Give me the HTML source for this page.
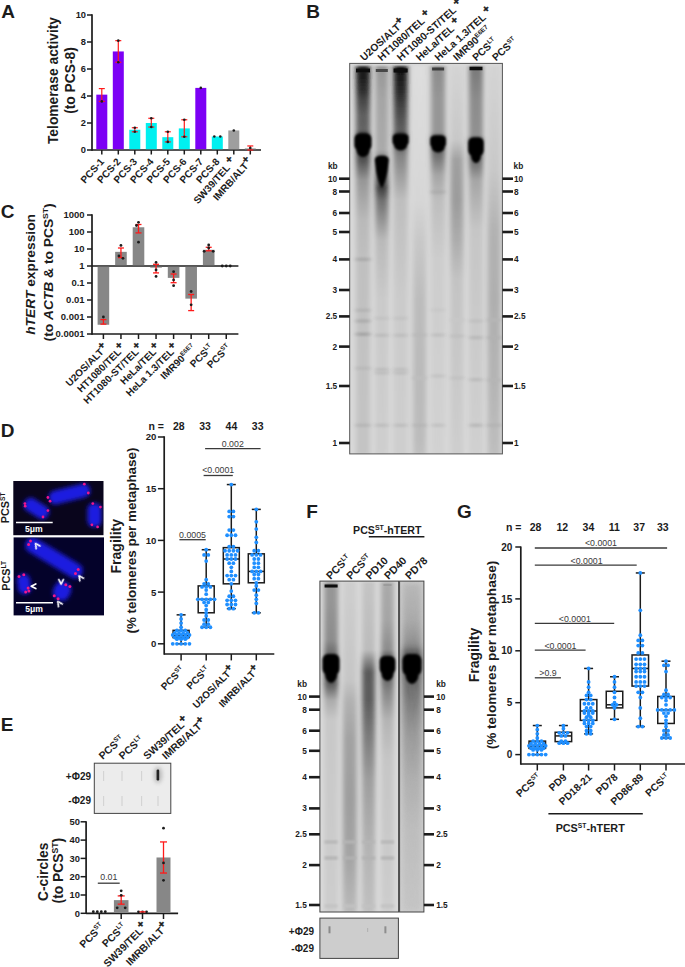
<!DOCTYPE html>
<html><head><meta charset="utf-8"><style>
html,body{margin:0;padding:0;background:#fff;overflow:hidden;width:685px;height:967px;}
svg{display:block;font-family:"Liberation Sans",sans-serif;}
</style></head><body>
<svg width="685" height="967" viewBox="0 0 685 967">
<defs><filter id="b05" x="-50%" y="-50%" width="200%" height="200%"><feGaussianBlur stdDeviation="0.6"/></filter><filter id="b1" x="-50%" y="-50%" width="200%" height="200%"><feGaussianBlur stdDeviation="1.0"/></filter><filter id="b15" x="-50%" y="-50%" width="200%" height="200%"><feGaussianBlur stdDeviation="2.4 1.2"/></filter><filter id="b2" x="-50%" y="-50%" width="200%" height="200%"><feGaussianBlur stdDeviation="2.0"/></filter><filter id="b3" x="-50%" y="-50%" width="200%" height="200%"><feGaussianBlur stdDeviation="3.0"/></filter><filter id="bh" x="-50%" y="-50%" width="200%" height="200%"><feGaussianBlur stdDeviation="1.6 0.8"/></filter><filter id="bs" x="-50%" y="-50%" width="200%" height="200%"><feGaussianBlur stdDeviation="1.3"/></filter><linearGradient id="vg1" x1="0" y1="0" x2="0" y2="1"><stop offset="0.0000" stop-color="#282828"/><stop offset="0.0206" stop-color="#191919"/><stop offset="0.0619" stop-color="#2d2d2d"/><stop offset="0.0876" stop-color="#464646"/><stop offset="0.1263" stop-color="#5f5f5f"/><stop offset="0.1649" stop-color="#646464"/><stop offset="0.1778" stop-color="#282828"/><stop offset="0.2423" stop-color="#505050"/><stop offset="0.2938" stop-color="#969696"/><stop offset="0.3969" stop-color="#b9b9b9"/><stop offset="0.5000" stop-color="#c0c0c0"/><stop offset="1.0000" stop-color="#c4c4c4"/></linearGradient><linearGradient id="vg2" x1="0" y1="0" x2="0" y2="1"><stop offset="0.0000" stop-color="#969696"/><stop offset="0.0876" stop-color="#a5a5a5"/><stop offset="0.2165" stop-color="#aaaaaa"/><stop offset="0.2423" stop-color="#787878"/><stop offset="0.3144" stop-color="#3c3c3c"/><stop offset="0.3454" stop-color="#6e6e6e"/><stop offset="0.4485" stop-color="#b9b9b9"/><stop offset="0.6031" stop-color="#cacaca"/><stop offset="1.0000" stop-color="#cecece"/></linearGradient><linearGradient id="vg3" x1="0" y1="0" x2="0" y2="1"><stop offset="0.0000" stop-color="#1e1e1e"/><stop offset="0.0206" stop-color="#191919"/><stop offset="0.0619" stop-color="#282828"/><stop offset="0.1005" stop-color="#414141"/><stop offset="0.1392" stop-color="#555555"/><stop offset="0.1649" stop-color="#5f5f5f"/><stop offset="0.1778" stop-color="#323232"/><stop offset="0.2294" stop-color="#828282"/><stop offset="0.3454" stop-color="#bebebe"/><stop offset="0.6031" stop-color="#cbcbcb"/><stop offset="1.0000" stop-color="#cecece"/></linearGradient><linearGradient id="vg4" x1="0" y1="0" x2="0" y2="1"><stop offset="0.0000" stop-color="#dedede"/><stop offset="0.3454" stop-color="#d6d6d6"/><stop offset="0.4485" stop-color="#c8c8c8"/><stop offset="0.6031" stop-color="#bcbcbc"/><stop offset="0.8093" stop-color="#bababa"/><stop offset="0.9639" stop-color="#bcbcbc"/><stop offset="1.0000" stop-color="#c0c0c0"/></linearGradient><linearGradient id="vg5" x1="0" y1="0" x2="0" y2="1"><stop offset="0.0000" stop-color="#8c8c8c"/><stop offset="0.0876" stop-color="#969696"/><stop offset="0.1701" stop-color="#969696"/><stop offset="0.1907" stop-color="#3c3c3c"/><stop offset="0.2294" stop-color="#6e6e6e"/><stop offset="0.2809" stop-color="#a5a5a5"/><stop offset="0.3454" stop-color="#bebebe"/><stop offset="0.5000" stop-color="#cdcdcd"/><stop offset="1.0000" stop-color="#d2d2d2"/></linearGradient><linearGradient id="vg6" x1="0" y1="0" x2="0" y2="1"><stop offset="0.0000" stop-color="#d4d4d4"/><stop offset="0.1907" stop-color="#c8c8c8"/><stop offset="0.2423" stop-color="#a0a0a0"/><stop offset="0.3454" stop-color="#9b9b9b"/><stop offset="0.4485" stop-color="#acacac"/><stop offset="0.5515" stop-color="#c3c3c3"/><stop offset="1.0000" stop-color="#cecece"/></linearGradient><linearGradient id="vg7" x1="0" y1="0" x2="0" y2="1"><stop offset="0.0000" stop-color="#787878"/><stop offset="0.0876" stop-color="#8c8c8c"/><stop offset="0.1778" stop-color="#919191"/><stop offset="0.1907" stop-color="#3c3c3c"/><stop offset="0.2552" stop-color="#787878"/><stop offset="0.2938" stop-color="#a5a5a5"/><stop offset="0.4227" stop-color="#c6c6c6"/><stop offset="1.0000" stop-color="#d0d0d0"/></linearGradient><linearGradient id="vg8" x1="0" y1="0" x2="0" y2="1"><stop offset="0.0000" stop-color="#d4d4d4"/><stop offset="0.2680" stop-color="#c8c8c8"/><stop offset="0.4227" stop-color="#b2b2b2"/><stop offset="0.6031" stop-color="#afafaf"/><stop offset="0.8093" stop-color="#b4b4b4"/><stop offset="1.0000" stop-color="#bebebe"/></linearGradient><filter id="chrom" x="-50%" y="-50%" width="200%" height="200%"><feGaussianBlur stdDeviation="2.2"/></filter><filter id="dotb" x="-100%" y="-100%" width="300%" height="300%"><feGaussianBlur stdDeviation="0.7"/></filter><linearGradient id="vg9" x1="0" y1="0" x2="0" y2="1"><stop offset="0.0000" stop-color="#969696"/><stop offset="0.0545" stop-color="#969696"/><stop offset="0.1758" stop-color="#8c8c8c"/><stop offset="0.2121" stop-color="#6e6e6e"/><stop offset="0.2364" stop-color="#3c3c3c"/><stop offset="0.3091" stop-color="#5a5a5a"/><stop offset="0.3576" stop-color="#aaaaaa"/><stop offset="0.4182" stop-color="#c8c8c8"/><stop offset="1.0000" stop-color="#cdcdcd"/></linearGradient><linearGradient id="vg10" x1="0" y1="0" x2="0" y2="1"><stop offset="0.0000" stop-color="#cecece"/><stop offset="0.2970" stop-color="#c6c6c6"/><stop offset="0.3576" stop-color="#b2b2b2"/><stop offset="0.4788" stop-color="#a2a2a2"/><stop offset="0.6606" stop-color="#9e9e9e"/><stop offset="0.8424" stop-color="#a5a5a5"/><stop offset="1.0000" stop-color="#bababa"/></linearGradient><linearGradient id="vg11" x1="0" y1="0" x2="0" y2="1"><stop offset="0.0000" stop-color="#c4c4c4"/><stop offset="0.2061" stop-color="#bcbcbc"/><stop offset="0.2364" stop-color="#8c8c8c"/><stop offset="0.2727" stop-color="#5a5a5a"/><stop offset="0.3576" stop-color="#5c5c5c"/><stop offset="0.4485" stop-color="#767676"/><stop offset="0.6000" stop-color="#9e9e9e"/><stop offset="0.8121" stop-color="#b4b4b4"/><stop offset="1.0000" stop-color="#c0c0c0"/></linearGradient><linearGradient id="vg12" x1="0" y1="0" x2="0" y2="1"><stop offset="0.0000" stop-color="#aaaaaa"/><stop offset="0.1152" stop-color="#a5a5a5"/><stop offset="0.2061" stop-color="#8c8c8c"/><stop offset="0.2364" stop-color="#3c3c3c"/><stop offset="0.3273" stop-color="#828282"/><stop offset="0.4182" stop-color="#b4b4b4"/><stop offset="0.5394" stop-color="#c6c6c6"/><stop offset="1.0000" stop-color="#cdcdcd"/></linearGradient><filter id="noise" x="0" y="0" width="100%" height="100%"><feTurbulence type="fractalNoise" baseFrequency="0.25 0.08" numOctaves="2" seed="3"/><feColorMatrix type="matrix" values="0 0 0 0 0.5  0 0 0 0 0.5  0 0 0 0 0.5  0 0 0 0.5 0"/></filter><linearGradient id="vg13" x1="0" y1="0" x2="0" y2="1"><stop offset="0.0000" stop-color="#b9b9b9"/><stop offset="0.1152" stop-color="#aaaaaa"/><stop offset="0.1909" stop-color="#8c8c8c"/><stop offset="0.2212" stop-color="#3c3c3c"/><stop offset="0.3273" stop-color="#6e6e6e"/><stop offset="0.4485" stop-color="#969696"/><stop offset="0.6000" stop-color="#afafaf"/><stop offset="0.7515" stop-color="#bebebe"/><stop offset="1.0000" stop-color="#c6c6c6"/></linearGradient></defs>
<text x="1.20" y="18.30" font-size="19" text-anchor="start" font-weight="bold" fill="#1c1c1c" >A</text>
<text x="306.20" y="18.10" font-size="19" text-anchor="start" font-weight="bold" fill="#1c1c1c" >B</text>
<text x="0.80" y="217.50" font-size="19" text-anchor="start" font-weight="bold" fill="#1c1c1c" >C</text>
<text x="0.80" y="436.50" font-size="19" text-anchor="start" font-weight="bold" fill="#1c1c1c" >D</text>
<text x="0.80" y="731.00" font-size="19" text-anchor="start" font-weight="bold" fill="#1c1c1c" >E</text>
<text x="306.20" y="518.00" font-size="19" text-anchor="start" font-weight="bold" fill="#1c1c1c" >F</text>
<text x="457.00" y="517.90" font-size="19" text-anchor="start" font-weight="bold" fill="#1c1c1c" >G</text>
<line x1="92.00" y1="14.25" x2="92.00" y2="150.75" stroke="#1c1c1c" stroke-width="1.7" />
<line x1="92.00" y1="150.00" x2="261.00" y2="150.00" stroke="#1c1c1c" stroke-width="1.7" />
<line x1="87.00" y1="150.00" x2="92.00" y2="150.00" stroke="#1c1c1c" stroke-width="1.5" />
<text x="86.00" y="152.60" font-size="9.3" text-anchor="end" font-weight="bold" fill="#1c1c1c" >0</text>
<line x1="87.00" y1="123.00" x2="92.00" y2="123.00" stroke="#1c1c1c" stroke-width="1.5" />
<text x="86.00" y="125.60" font-size="9.3" text-anchor="end" font-weight="bold" fill="#1c1c1c" >2</text>
<line x1="87.00" y1="96.00" x2="92.00" y2="96.00" stroke="#1c1c1c" stroke-width="1.5" />
<text x="86.00" y="98.60" font-size="9.3" text-anchor="end" font-weight="bold" fill="#1c1c1c" >4</text>
<line x1="87.00" y1="69.00" x2="92.00" y2="69.00" stroke="#1c1c1c" stroke-width="1.5" />
<text x="86.00" y="71.60" font-size="9.3" text-anchor="end" font-weight="bold" fill="#1c1c1c" >6</text>
<line x1="87.00" y1="42.00" x2="92.00" y2="42.00" stroke="#1c1c1c" stroke-width="1.5" />
<text x="86.00" y="44.60" font-size="9.3" text-anchor="end" font-weight="bold" fill="#1c1c1c" >8</text>
<line x1="87.00" y1="15.00" x2="92.00" y2="15.00" stroke="#1c1c1c" stroke-width="1.5" />
<text x="86.00" y="17.60" font-size="9.3" text-anchor="end" font-weight="bold" fill="#1c1c1c" >10</text>
<rect x="96.30" y="94.65" width="11.00" height="54.55" fill="#7c00f5" />
<line x1="101.80" y1="150.00" x2="101.80" y2="154.50" stroke="#1c1c1c" stroke-width="1.5" />
<line x1="101.80" y1="101.40" x2="101.80" y2="88.58" stroke="#ff1a1a" stroke-width="1.2" />
<line x1="98.80" y1="101.40" x2="104.80" y2="101.40" stroke="#ff1a1a" stroke-width="1.2" />
<line x1="98.80" y1="88.58" x2="104.80" y2="88.58" stroke="#ff1a1a" stroke-width="1.2" />
<circle cx="101.80" cy="101.40" r="1.3" fill="#1c1c1c"/>
<rect x="112.80" y="51.45" width="11.00" height="97.75" fill="#7c00f5" />
<line x1="118.30" y1="150.00" x2="118.30" y2="154.50" stroke="#1c1c1c" stroke-width="1.5" />
<line x1="118.30" y1="62.25" x2="118.30" y2="40.65" stroke="#ff1a1a" stroke-width="1.2" />
<line x1="115.30" y1="62.25" x2="121.30" y2="62.25" stroke="#ff1a1a" stroke-width="1.2" />
<line x1="115.30" y1="40.65" x2="121.30" y2="40.65" stroke="#ff1a1a" stroke-width="1.2" />
<circle cx="118.30" cy="62.25" r="1.3" fill="#1c1c1c"/>
<circle cx="118.30" cy="40.65" r="1.3" fill="#1c1c1c"/>
<rect x="129.30" y="129.75" width="11.00" height="19.45" fill="#00f0f0" />
<line x1="134.80" y1="150.00" x2="134.80" y2="154.50" stroke="#1c1c1c" stroke-width="1.5" />
<line x1="134.80" y1="131.78" x2="134.80" y2="127.72" stroke="#ff1a1a" stroke-width="1.2" />
<line x1="131.80" y1="131.78" x2="137.80" y2="131.78" stroke="#ff1a1a" stroke-width="1.2" />
<line x1="131.80" y1="127.72" x2="137.80" y2="127.72" stroke="#ff1a1a" stroke-width="1.2" />
<circle cx="134.80" cy="131.78" r="1.3" fill="#1c1c1c"/>
<circle cx="134.80" cy="127.72" r="1.3" fill="#1c1c1c"/>
<rect x="145.80" y="123.00" width="11.00" height="26.20" fill="#00f0f0" />
<line x1="151.30" y1="150.00" x2="151.30" y2="154.50" stroke="#1c1c1c" stroke-width="1.5" />
<line x1="151.30" y1="127.05" x2="151.30" y2="118.28" stroke="#ff1a1a" stroke-width="1.2" />
<line x1="148.30" y1="127.05" x2="154.30" y2="127.05" stroke="#ff1a1a" stroke-width="1.2" />
<line x1="148.30" y1="118.28" x2="154.30" y2="118.28" stroke="#ff1a1a" stroke-width="1.2" />
<circle cx="151.30" cy="127.05" r="1.3" fill="#1c1c1c"/>
<circle cx="151.30" cy="118.28" r="1.3" fill="#1c1c1c"/>
<rect x="162.30" y="137.18" width="11.00" height="12.02" fill="#00f0f0" />
<line x1="167.80" y1="150.00" x2="167.80" y2="154.50" stroke="#1c1c1c" stroke-width="1.5" />
<line x1="167.80" y1="141.90" x2="167.80" y2="131.78" stroke="#ff1a1a" stroke-width="1.2" />
<line x1="164.80" y1="141.90" x2="170.80" y2="141.90" stroke="#ff1a1a" stroke-width="1.2" />
<line x1="164.80" y1="131.78" x2="170.80" y2="131.78" stroke="#ff1a1a" stroke-width="1.2" />
<circle cx="167.80" cy="141.90" r="1.3" fill="#1c1c1c"/>
<circle cx="167.80" cy="131.78" r="1.3" fill="#1c1c1c"/>
<rect x="178.80" y="128.40" width="11.00" height="20.80" fill="#00f0f0" />
<line x1="184.30" y1="150.00" x2="184.30" y2="154.50" stroke="#1c1c1c" stroke-width="1.5" />
<line x1="184.30" y1="136.77" x2="184.30" y2="119.76" stroke="#ff1a1a" stroke-width="1.2" />
<line x1="181.30" y1="136.77" x2="187.30" y2="136.77" stroke="#ff1a1a" stroke-width="1.2" />
<line x1="181.30" y1="119.76" x2="187.30" y2="119.76" stroke="#ff1a1a" stroke-width="1.2" />
<circle cx="184.30" cy="136.77" r="1.3" fill="#1c1c1c"/>
<circle cx="184.30" cy="119.76" r="1.3" fill="#1c1c1c"/>
<rect x="195.30" y="87.90" width="11.00" height="61.30" fill="#7c00f5" />
<line x1="200.80" y1="150.00" x2="200.80" y2="154.50" stroke="#1c1c1c" stroke-width="1.5" />
<circle cx="200.80" cy="87.90" r="1.3" fill="#1c1c1c"/>
<rect x="211.80" y="136.50" width="11.00" height="12.70" fill="#00f0f0" />
<line x1="217.30" y1="150.00" x2="217.30" y2="154.50" stroke="#1c1c1c" stroke-width="1.5" />
<circle cx="214.30" cy="136.50" r="1.3" fill="#1c1c1c"/>
<circle cx="220.30" cy="136.50" r="1.3" fill="#1c1c1c"/>
<rect x="228.30" y="130.43" width="11.00" height="18.77" fill="#9e9e9e" />
<line x1="233.80" y1="150.00" x2="233.80" y2="154.50" stroke="#1c1c1c" stroke-width="1.5" />
<circle cx="233.80" cy="130.43" r="1.3" fill="#1c1c1c"/>
<rect x="244.80" y="147.97" width="11.00" height="1.23" fill="#bdbdbd" />
<line x1="250.30" y1="150.00" x2="250.30" y2="154.50" stroke="#1c1c1c" stroke-width="1.5" />
<line x1="250.30" y1="150.00" x2="250.30" y2="145.95" stroke="#ff1a1a" stroke-width="1.2" />
<line x1="247.30" y1="150.00" x2="253.30" y2="150.00" stroke="#ff1a1a" stroke-width="1.2" />
<line x1="247.30" y1="145.95" x2="253.30" y2="145.95" stroke="#ff1a1a" stroke-width="1.2" />
<circle cx="250.30" cy="147.97" r="1.3" fill="#1c1c1c"/>
<text x="104.80" y="162.00" font-size="10" text-anchor="end" font-weight="bold" fill="#1c1c1c" transform="rotate(-48 104.80 162.00)" >PCS-1</text>
<text x="121.30" y="162.00" font-size="10" text-anchor="end" font-weight="bold" fill="#1c1c1c" transform="rotate(-48 121.30 162.00)" >PCS-2</text>
<text x="137.80" y="162.00" font-size="10" text-anchor="end" font-weight="bold" fill="#1c1c1c" transform="rotate(-48 137.80 162.00)" >PCS-3</text>
<text x="154.30" y="162.00" font-size="10" text-anchor="end" font-weight="bold" fill="#1c1c1c" transform="rotate(-48 154.30 162.00)" >PCS-4</text>
<text x="170.80" y="162.00" font-size="10" text-anchor="end" font-weight="bold" fill="#1c1c1c" transform="rotate(-48 170.80 162.00)" >PCS-5</text>
<text x="187.30" y="162.00" font-size="10" text-anchor="end" font-weight="bold" fill="#1c1c1c" transform="rotate(-48 187.30 162.00)" >PCS-6</text>
<text x="203.80" y="162.00" font-size="10" text-anchor="end" font-weight="bold" fill="#1c1c1c" transform="rotate(-48 203.80 162.00)" >PCS-7</text>
<text x="220.30" y="162.00" font-size="10" text-anchor="end" font-weight="bold" fill="#1c1c1c" transform="rotate(-48 220.30 162.00)" >PCS-8</text>
<text x="236.30" y="162.00" font-size="10" text-anchor="end" font-weight="bold" fill="#1c1c1c" transform="rotate(-48 236.30 162.00)" >SW39/TEL <tspan font-size="10.00" dy="-4.00" stroke="#1c1c1c" stroke-width="0.5">+</tspan></text>
<text x="252.80" y="162.00" font-size="10" text-anchor="end" font-weight="bold" fill="#1c1c1c" transform="rotate(-48 252.80 162.00)" >IMRB/ALT<tspan font-size="10.00" dy="-4.00" stroke="#1c1c1c" stroke-width="0.5">+</tspan></text>
<text x="57.50" y="80.50" font-size="13.8" text-anchor="middle" font-weight="bold" fill="#1c1c1c" transform="rotate(-90 57.50 80.50)" >Telomerase activity</text>
<text x="74.50" y="80.50" font-size="13.8" text-anchor="middle" font-weight="bold" fill="#1c1c1c" transform="rotate(-90 74.50 80.50)" >(to PCS-8)</text>
<clipPath id="gB"><rect x="349.7" y="63.4" width="152.7" height="390.5"/></clipPath>
<rect x="349.70" y="63.40" width="152.70" height="390.50" fill="#d9d9d9" />
<g clip-path="url(#gB)">
<rect x="356.00" y="66.00" width="14.00" height="388.00" fill="url(#vg1)" filter="url(#b15)" opacity="1"/>
<g filter="url(#bs)" fill="#000"><rect x="354.50" y="133.50" width="17.00" height="16.92" rx="5.44" ry="5.17"/><ellipse cx="363.00" cy="149.01" rx="6.50" ry="7.99"/></g>
<rect x="356.00" y="68.50" width="14.00" height="4.00" fill="#0f0f0f" filter="url(#b05)"/>
<rect x="356.50" y="257.65" width="13.00" height="3.50" fill="#aaaaaa" filter="url(#b15)"/>
<rect x="356.50" y="308.55" width="13.00" height="3.50" fill="#b4b4b4" filter="url(#b15)"/>
<rect x="356.50" y="319.25" width="13.00" height="3.50" fill="#acacac" filter="url(#b15)"/>
<rect x="356.50" y="332.45" width="13.00" height="3.50" fill="#a5a5a5" filter="url(#b15)"/>
<rect x="356.50" y="366.55" width="13.00" height="3.50" fill="#b9b9b9" filter="url(#b15)"/>
<rect x="356.50" y="423.55" width="13.00" height="3.50" fill="#b6b6b6" filter="url(#b15)"/>
<rect x="375.30" y="66.00" width="13.00" height="388.00" fill="url(#vg2)" filter="url(#b15)" opacity="1"/>
<path d="M374.80,160.00 Q374.80,155.5 381.80,155.5 Q388.80,155.5 388.80,160 L387.30,172 Q384.80,184 381.80,188 Q378.80,184 376.30,172 Z" fill="#000" filter="url(#bs)"/>
<rect x="375.80" y="69.00" width="12.00" height="3.00" fill="#464646" filter="url(#b05)"/>
<rect x="375.80" y="316.45" width="12.00" height="3.50" fill="#c3c3c3" filter="url(#b15)"/>
<rect x="375.80" y="333.55" width="12.00" height="3.50" fill="#bcbcbc" filter="url(#b15)"/>
<rect x="375.80" y="367.75" width="12.00" height="3.50" fill="#bcbcbc" filter="url(#b15)"/>
<rect x="375.80" y="371.15" width="12.00" height="3.50" fill="#bebebe" filter="url(#b15)"/>
<rect x="375.80" y="423.55" width="12.00" height="3.50" fill="#bebebe" filter="url(#b15)"/>
<rect x="393.60" y="66.00" width="14.00" height="388.00" fill="url(#vg3)" filter="url(#b15)" opacity="1"/>
<g filter="url(#bs)" fill="#000"><rect x="392.60" y="133.80" width="16.00" height="11.95" rx="5.12" ry="3.65"/><ellipse cx="400.60" cy="144.76" rx="6.50" ry="5.64"/></g>
<rect x="393.60" y="68.50" width="14.00" height="4.00" fill="#0a0a0a" filter="url(#b05)"/>
<rect x="394.60" y="316.45" width="12.00" height="3.50" fill="#c3c3c3" filter="url(#b15)"/>
<rect x="394.60" y="333.55" width="12.00" height="3.50" fill="#bebebe" filter="url(#b15)"/>
<rect x="394.60" y="367.75" width="12.00" height="3.50" fill="#bebebe" filter="url(#b15)"/>
<rect x="394.60" y="371.15" width="12.00" height="3.50" fill="#bebebe" filter="url(#b15)"/>
<rect x="394.60" y="423.55" width="12.00" height="3.50" fill="#bebebe" filter="url(#b15)"/>
<rect x="413.10" y="66.00" width="13.00" height="388.00" fill="url(#vg4)" filter="url(#b15)" opacity="1"/>
<rect x="413.60" y="333.25" width="12.00" height="3.50" fill="#b9b9b9" filter="url(#b15)"/>
<rect x="413.60" y="376.25" width="12.00" height="3.50" fill="#bebebe" filter="url(#b15)"/>
<rect x="413.60" y="423.55" width="12.00" height="3.50" fill="#b6b6b6" filter="url(#b15)"/>
<rect x="431.10" y="66.00" width="14.00" height="388.00" fill="url(#vg5)" filter="url(#b15)" opacity="1"/>
<g filter="url(#bs)" fill="#000"><rect x="430.35" y="135.20" width="15.50" height="12.53" rx="4.96" ry="3.83"/><ellipse cx="438.10" cy="146.68" rx="6.50" ry="5.92"/></g>
<rect x="432.10" y="67.50" width="12.00" height="3.00" fill="#3c3c3c" filter="url(#b05)"/>
<rect x="432.10" y="190.25" width="12.00" height="3.50" fill="#acacac" filter="url(#b15)"/>
<rect x="432.10" y="308.25" width="12.00" height="3.50" fill="#c8c8c8" filter="url(#b15)"/>
<rect x="432.10" y="333.25" width="12.00" height="3.50" fill="#c0c0c0" filter="url(#b15)"/>
<rect x="432.10" y="374.25" width="12.00" height="3.50" fill="#c3c3c3" filter="url(#b15)"/>
<rect x="432.10" y="423.55" width="12.00" height="3.50" fill="#c2c2c2" filter="url(#b15)"/>
<rect x="450.40" y="66.00" width="13.00" height="388.00" fill="url(#vg6)" filter="url(#b15)" opacity="1"/>
<rect x="450.90" y="318.25" width="12.00" height="3.50" fill="#c8c8c8" filter="url(#b15)"/>
<rect x="450.90" y="334.25" width="12.00" height="3.50" fill="#c0c0c0" filter="url(#b15)"/>
<rect x="450.90" y="376.25" width="12.00" height="3.50" fill="#c2c2c2" filter="url(#b15)"/>
<rect x="469.00" y="66.00" width="14.00" height="388.00" fill="url(#vg7)" filter="url(#b15)" opacity="1"/>
<g filter="url(#bs)" fill="#000"><rect x="468.25" y="137.40" width="15.50" height="18.43" rx="4.96" ry="5.63"/><ellipse cx="476.00" cy="154.30" rx="5.00" ry="8.70"/></g>
<rect x="469.50" y="66.75" width="13.00" height="3.50" fill="#0f0f0f" filter="url(#b05)"/>
<rect x="470.00" y="319.25" width="12.00" height="3.50" fill="#c0c0c0" filter="url(#b15)"/>
<rect x="470.00" y="335.85" width="12.00" height="3.50" fill="#b9b9b9" filter="url(#b15)"/>
<rect x="470.00" y="377.95" width="12.00" height="3.50" fill="#bcbcbc" filter="url(#b15)"/>
<rect x="470.00" y="423.55" width="12.00" height="3.50" fill="#b9b9b9" filter="url(#b15)"/>
<rect x="487.60" y="66.00" width="13.00" height="388.00" fill="url(#vg8)" filter="url(#b15)" opacity="1"/>
<rect x="488.10" y="318.25" width="12.00" height="3.50" fill="#b6b6b6" filter="url(#b15)"/>
<rect x="488.10" y="335.85" width="12.00" height="3.50" fill="#b2b2b2" filter="url(#b15)"/>
<rect x="488.10" y="378.25" width="12.00" height="3.50" fill="#b6b6b6" filter="url(#b15)"/>
<rect x="488.10" y="423.55" width="12.00" height="3.50" fill="#b4b4b4" filter="url(#b15)"/>
</g>
<rect x="349.7" y="63.4" width="152.7" height="390.5" fill="none" stroke="#555" stroke-width="1"/>
<text x="337.60" y="168.90" font-size="8.3" text-anchor="end" font-weight="bold" fill="#1c1c1c" >kb</text>
<text x="513.60" y="168.90" font-size="8.3" text-anchor="start" font-weight="bold" fill="#1c1c1c" >kb</text>
<line x1="339.00" y1="178.70" x2="349.70" y2="178.70" stroke="#1c1c1c" stroke-width="2.6" />
<line x1="502.40" y1="178.70" x2="513.00" y2="178.70" stroke="#1c1c1c" stroke-width="2.6" />
<text x="337.20" y="181.70" font-size="8.3" text-anchor="end" font-weight="bold" fill="#1c1c1c" >10</text>
<text x="514.00" y="181.70" font-size="8.3" text-anchor="start" font-weight="bold" fill="#1c1c1c" >10</text>
<line x1="339.00" y1="191.50" x2="349.70" y2="191.50" stroke="#1c1c1c" stroke-width="2.6" />
<line x1="502.40" y1="191.50" x2="513.00" y2="191.50" stroke="#1c1c1c" stroke-width="2.6" />
<text x="337.20" y="194.50" font-size="8.3" text-anchor="end" font-weight="bold" fill="#1c1c1c" >8</text>
<text x="514.00" y="194.50" font-size="8.3" text-anchor="start" font-weight="bold" fill="#1c1c1c" >8</text>
<line x1="339.00" y1="213.00" x2="349.70" y2="213.00" stroke="#1c1c1c" stroke-width="2.6" />
<line x1="502.40" y1="213.00" x2="513.00" y2="213.00" stroke="#1c1c1c" stroke-width="2.6" />
<text x="337.20" y="216.00" font-size="8.3" text-anchor="end" font-weight="bold" fill="#1c1c1c" >6</text>
<text x="514.00" y="216.00" font-size="8.3" text-anchor="start" font-weight="bold" fill="#1c1c1c" >6</text>
<line x1="339.00" y1="232.00" x2="349.70" y2="232.00" stroke="#1c1c1c" stroke-width="2.6" />
<line x1="502.40" y1="232.00" x2="513.00" y2="232.00" stroke="#1c1c1c" stroke-width="2.6" />
<text x="337.20" y="235.00" font-size="8.3" text-anchor="end" font-weight="bold" fill="#1c1c1c" >5</text>
<text x="514.00" y="235.00" font-size="8.3" text-anchor="start" font-weight="bold" fill="#1c1c1c" >5</text>
<line x1="339.00" y1="259.40" x2="349.70" y2="259.40" stroke="#1c1c1c" stroke-width="2.6" />
<line x1="502.40" y1="259.40" x2="513.00" y2="259.40" stroke="#1c1c1c" stroke-width="2.6" />
<text x="337.20" y="262.40" font-size="8.3" text-anchor="end" font-weight="bold" fill="#1c1c1c" >4</text>
<text x="514.00" y="262.40" font-size="8.3" text-anchor="start" font-weight="bold" fill="#1c1c1c" >4</text>
<line x1="339.00" y1="290.00" x2="349.70" y2="290.00" stroke="#1c1c1c" stroke-width="2.6" />
<line x1="502.40" y1="290.00" x2="513.00" y2="290.00" stroke="#1c1c1c" stroke-width="2.6" />
<text x="337.20" y="293.00" font-size="8.3" text-anchor="end" font-weight="bold" fill="#1c1c1c" >3</text>
<text x="514.00" y="293.00" font-size="8.3" text-anchor="start" font-weight="bold" fill="#1c1c1c" >3</text>
<line x1="339.00" y1="316.40" x2="349.70" y2="316.40" stroke="#1c1c1c" stroke-width="2.6" />
<line x1="502.40" y1="316.40" x2="513.00" y2="316.40" stroke="#1c1c1c" stroke-width="2.6" />
<text x="337.20" y="319.40" font-size="8.3" text-anchor="end" font-weight="bold" fill="#1c1c1c" >2.5</text>
<text x="514.00" y="319.40" font-size="8.3" text-anchor="start" font-weight="bold" fill="#1c1c1c" >2.5</text>
<line x1="339.00" y1="346.60" x2="349.70" y2="346.60" stroke="#1c1c1c" stroke-width="2.6" />
<line x1="502.40" y1="346.60" x2="513.00" y2="346.60" stroke="#1c1c1c" stroke-width="2.6" />
<text x="337.20" y="349.60" font-size="8.3" text-anchor="end" font-weight="bold" fill="#1c1c1c" >2</text>
<text x="514.00" y="349.60" font-size="8.3" text-anchor="start" font-weight="bold" fill="#1c1c1c" >2</text>
<line x1="339.00" y1="386.00" x2="349.70" y2="386.00" stroke="#1c1c1c" stroke-width="2.6" />
<line x1="502.40" y1="386.00" x2="513.00" y2="386.00" stroke="#1c1c1c" stroke-width="2.6" />
<text x="337.20" y="389.00" font-size="8.3" text-anchor="end" font-weight="bold" fill="#1c1c1c" >1.5</text>
<text x="514.00" y="389.00" font-size="8.3" text-anchor="start" font-weight="bold" fill="#1c1c1c" >1.5</text>
<line x1="339.00" y1="443.00" x2="349.70" y2="443.00" stroke="#1c1c1c" stroke-width="2.6" />
<line x1="502.40" y1="443.00" x2="513.00" y2="443.00" stroke="#1c1c1c" stroke-width="2.6" />
<text x="337.20" y="446.00" font-size="8.3" text-anchor="end" font-weight="bold" fill="#1c1c1c" >1</text>
<text x="514.00" y="446.00" font-size="8.3" text-anchor="start" font-weight="bold" fill="#1c1c1c" >1</text>
<text x="364.00" y="61.50" font-size="10.3" text-anchor="start" font-weight="bold" fill="#1c1c1c" transform="rotate(-42 364.00 61.50)" >U2OS/ALT<tspan font-size="10.30" dy="-4.12" stroke="#1c1c1c" stroke-width="0.5">+</tspan></text>
<text x="381.60" y="61.50" font-size="10.3" text-anchor="start" font-weight="bold" fill="#1c1c1c" transform="rotate(-42 381.60 61.50)" >HT1080/TEL <tspan font-size="10.30" dy="-4.12" stroke="#1c1c1c" stroke-width="0.5">+</tspan></text>
<text x="400.80" y="61.50" font-size="10.3" text-anchor="start" font-weight="bold" fill="#1c1c1c" transform="rotate(-42 400.80 61.50)" >HT1080-ST/TEL <tspan font-size="10.30" dy="-4.12" stroke="#1c1c1c" stroke-width="0.5">+</tspan></text>
<text x="419.70" y="61.50" font-size="10.3" text-anchor="start" font-weight="bold" fill="#1c1c1c" transform="rotate(-42 419.70 61.50)" >HeLa/TEL <tspan font-size="10.30" dy="-4.12" stroke="#1c1c1c" stroke-width="0.5">+</tspan></text>
<text x="438.60" y="61.50" font-size="10.3" text-anchor="start" font-weight="bold" fill="#1c1c1c" transform="rotate(-42 438.60 61.50)" >HeLa 1.3/TEL <tspan font-size="10.30" dy="-4.12" stroke="#1c1c1c" stroke-width="0.5">+</tspan></text>
<text x="457.00" y="61.50" font-size="10.3" text-anchor="start" font-weight="bold" fill="#1c1c1c" transform="rotate(-42 457.00 61.50)" >IMR90<tspan font-size="6.39" dy="-4.12">E6E7</tspan></text>
<text x="476.20" y="61.50" font-size="10.3" text-anchor="start" font-weight="bold" fill="#1c1c1c" transform="rotate(-42 476.20 61.50)" >PCS<tspan font-size="6.39" dy="-4.12">LT</tspan></text>
<text x="495.90" y="61.50" font-size="10.3" text-anchor="start" font-weight="bold" fill="#1c1c1c" transform="rotate(-42 495.90 61.50)" >PCS<tspan font-size="6.39" dy="-4.12">ST</tspan></text>
<line x1="92.00" y1="214.30" x2="92.00" y2="334.75" stroke="#1c1c1c" stroke-width="1.7" />
<line x1="92.00" y1="334.00" x2="238.40" y2="334.00" stroke="#1c1c1c" stroke-width="1.7" />
<line x1="92.00" y1="266.00" x2="238.40" y2="266.00" stroke="#1c1c1c" stroke-width="1.7" />
<line x1="87.00" y1="215.00" x2="92.00" y2="215.00" stroke="#1c1c1c" stroke-width="1.5" />
<text x="84.60" y="218.20" font-size="9.5" text-anchor="end" font-weight="bold" fill="#1c1c1c" >1000</text>
<line x1="87.00" y1="232.00" x2="92.00" y2="232.00" stroke="#1c1c1c" stroke-width="1.5" />
<text x="84.60" y="235.20" font-size="9.5" text-anchor="end" font-weight="bold" fill="#1c1c1c" >100</text>
<line x1="87.00" y1="249.00" x2="92.00" y2="249.00" stroke="#1c1c1c" stroke-width="1.5" />
<text x="84.60" y="252.20" font-size="9.5" text-anchor="end" font-weight="bold" fill="#1c1c1c" >10</text>
<line x1="87.00" y1="266.00" x2="92.00" y2="266.00" stroke="#1c1c1c" stroke-width="1.5" />
<text x="84.60" y="269.20" font-size="9.5" text-anchor="end" font-weight="bold" fill="#1c1c1c" >1</text>
<line x1="87.00" y1="283.00" x2="92.00" y2="283.00" stroke="#1c1c1c" stroke-width="1.5" />
<text x="84.60" y="286.20" font-size="9.5" text-anchor="end" font-weight="bold" fill="#1c1c1c" >0.1</text>
<line x1="87.00" y1="300.00" x2="92.00" y2="300.00" stroke="#1c1c1c" stroke-width="1.5" />
<text x="84.60" y="303.20" font-size="9.5" text-anchor="end" font-weight="bold" fill="#1c1c1c" >0.01</text>
<line x1="87.00" y1="317.00" x2="92.00" y2="317.00" stroke="#1c1c1c" stroke-width="1.5" />
<text x="84.60" y="320.20" font-size="9.5" text-anchor="end" font-weight="bold" fill="#1c1c1c" >0.001</text>
<line x1="87.00" y1="334.00" x2="92.00" y2="334.00" stroke="#1c1c1c" stroke-width="1.5" />
<text x="84.60" y="337.20" font-size="9.5" text-anchor="end" font-weight="bold" fill="#1c1c1c" >0.0001</text>
<rect x="97.60" y="266.80" width="11.60" height="57.95" fill="#878787" />
<line x1="103.40" y1="334.00" x2="103.40" y2="339.00" stroke="#1c1c1c" stroke-width="1.5" />
<rect x="115.15" y="251.85" width="11.60" height="13.35" fill="#878787" />
<line x1="120.95" y1="334.00" x2="120.95" y2="339.00" stroke="#1c1c1c" stroke-width="1.5" />
<rect x="132.70" y="227.26" width="11.60" height="37.94" fill="#878787" />
<line x1="138.50" y1="334.00" x2="138.50" y2="339.00" stroke="#1c1c1c" stroke-width="1.5" />
<rect x="150.25" y="266.80" width="11.60" height="0.85" fill="#878787" />
<line x1="156.05" y1="334.00" x2="156.05" y2="339.00" stroke="#1c1c1c" stroke-width="1.5" />
<rect x="167.80" y="266.80" width="11.60" height="11.08" fill="#878787" />
<line x1="173.60" y1="334.00" x2="173.60" y2="339.00" stroke="#1c1c1c" stroke-width="1.5" />
<rect x="185.35" y="266.80" width="11.60" height="31.85" fill="#878787" />
<line x1="191.15" y1="334.00" x2="191.15" y2="339.00" stroke="#1c1c1c" stroke-width="1.5" />
<rect x="202.90" y="249.78" width="11.60" height="15.42" fill="#878787" />
<line x1="208.70" y1="334.00" x2="208.70" y2="339.00" stroke="#1c1c1c" stroke-width="1.5" />
<line x1="226.25" y1="334.00" x2="226.25" y2="339.00" stroke="#1c1c1c" stroke-width="1.5" />
<line x1="103.40" y1="319.60" x2="103.40" y2="324.10" stroke="#ff1a1a" stroke-width="1.3" />
<line x1="100.40" y1="319.60" x2="106.40" y2="319.60" stroke="#ff1a1a" stroke-width="1.3" />
<line x1="100.40" y1="324.10" x2="106.40" y2="324.10" stroke="#ff1a1a" stroke-width="1.3" />
<circle cx="103.40" cy="317.00" r="1.4" fill="#1c1c1c"/>
<line x1="120.95" y1="248.00" x2="120.95" y2="257.60" stroke="#ff1a1a" stroke-width="1.3" />
<line x1="117.95" y1="248.00" x2="123.95" y2="248.00" stroke="#ff1a1a" stroke-width="1.3" />
<line x1="117.95" y1="257.60" x2="123.95" y2="257.60" stroke="#ff1a1a" stroke-width="1.3" />
<circle cx="120.95" cy="245.40" r="1.4" fill="#1c1c1c"/>
<circle cx="118.95" cy="256.00" r="1.4" fill="#1c1c1c"/>
<circle cx="122.95" cy="258.30" r="1.4" fill="#1c1c1c"/>
<line x1="138.50" y1="224.50" x2="138.50" y2="232.90" stroke="#ff1a1a" stroke-width="1.3" />
<line x1="135.50" y1="224.50" x2="141.50" y2="224.50" stroke="#ff1a1a" stroke-width="1.3" />
<line x1="135.50" y1="232.90" x2="141.50" y2="232.90" stroke="#ff1a1a" stroke-width="1.3" />
<circle cx="138.50" cy="222.30" r="1.4" fill="#1c1c1c"/>
<circle cx="136.50" cy="225.50" r="1.4" fill="#1c1c1c"/>
<circle cx="138.50" cy="242.20" r="1.4" fill="#1c1c1c"/>
<line x1="156.05" y1="264.30" x2="156.05" y2="272.90" stroke="#ff1a1a" stroke-width="1.3" />
<line x1="153.05" y1="264.30" x2="159.05" y2="264.30" stroke="#ff1a1a" stroke-width="1.3" />
<line x1="153.05" y1="272.90" x2="159.05" y2="272.90" stroke="#ff1a1a" stroke-width="1.3" />
<circle cx="156.05" cy="262.40" r="1.4" fill="#1c1c1c"/>
<circle cx="156.05" cy="269.90" r="1.4" fill="#1c1c1c"/>
<circle cx="156.05" cy="276.40" r="1.4" fill="#1c1c1c"/>
<line x1="173.60" y1="274.00" x2="173.60" y2="282.70" stroke="#ff1a1a" stroke-width="1.3" />
<line x1="170.60" y1="274.00" x2="176.60" y2="274.00" stroke="#ff1a1a" stroke-width="1.3" />
<line x1="170.60" y1="282.70" x2="176.60" y2="282.70" stroke="#ff1a1a" stroke-width="1.3" />
<circle cx="173.60" cy="271.70" r="1.4" fill="#1c1c1c"/>
<circle cx="173.60" cy="279.90" r="1.4" fill="#1c1c1c"/>
<circle cx="173.60" cy="285.70" r="1.4" fill="#1c1c1c"/>
<line x1="191.15" y1="294.50" x2="191.15" y2="310.60" stroke="#ff1a1a" stroke-width="1.3" />
<line x1="188.15" y1="294.50" x2="194.15" y2="294.50" stroke="#ff1a1a" stroke-width="1.3" />
<line x1="188.15" y1="310.60" x2="194.15" y2="310.60" stroke="#ff1a1a" stroke-width="1.3" />
<circle cx="191.15" cy="291.50" r="1.4" fill="#1c1c1c"/>
<circle cx="191.15" cy="304.80" r="1.4" fill="#1c1c1c"/>
<line x1="208.70" y1="247.30" x2="208.70" y2="250.80" stroke="#ff1a1a" stroke-width="1.3" />
<line x1="205.70" y1="247.30" x2="211.70" y2="247.30" stroke="#ff1a1a" stroke-width="1.3" />
<line x1="205.70" y1="250.80" x2="211.70" y2="250.80" stroke="#ff1a1a" stroke-width="1.3" />
<circle cx="208.70" cy="245.00" r="1.4" fill="#1c1c1c"/>
<circle cx="204.20" cy="251.30" r="1.4" fill="#1c1c1c"/>
<circle cx="213.20" cy="251.30" r="1.4" fill="#1c1c1c"/>
<circle cx="208.70" cy="248.00" r="1.4" fill="#1c1c1c"/>
<circle cx="222.25" cy="266.00" r="1.4" fill="#1c1c1c"/>
<circle cx="226.25" cy="266.00" r="1.4" fill="#1c1c1c"/>
<circle cx="230.25" cy="266.00" r="1.4" fill="#1c1c1c"/>
<text x="108.40" y="348.50" font-size="10" text-anchor="end" font-weight="bold" fill="#1c1c1c" transform="rotate(-45 108.40 348.50)" >U2OS/ALT<tspan font-size="10.00" dy="-4.00" stroke="#1c1c1c" stroke-width="0.5">+</tspan></text>
<text x="125.95" y="348.50" font-size="10" text-anchor="end" font-weight="bold" fill="#1c1c1c" transform="rotate(-45 125.95 348.50)" >HT1080/TEL<tspan font-size="10.00" dy="-4.00" stroke="#1c1c1c" stroke-width="0.5">+</tspan></text>
<text x="143.50" y="348.50" font-size="10" text-anchor="end" font-weight="bold" fill="#1c1c1c" transform="rotate(-45 143.50 348.50)" >HT1080-ST/TEL<tspan font-size="10.00" dy="-4.00" stroke="#1c1c1c" stroke-width="0.5">+</tspan></text>
<text x="161.05" y="348.50" font-size="10" text-anchor="end" font-weight="bold" fill="#1c1c1c" transform="rotate(-45 161.05 348.50)" >HeLa/TEL<tspan font-size="10.00" dy="-4.00" stroke="#1c1c1c" stroke-width="0.5">+</tspan></text>
<text x="178.60" y="348.50" font-size="10" text-anchor="end" font-weight="bold" fill="#1c1c1c" transform="rotate(-45 178.60 348.50)" >HeLa 1.3/TEL<tspan font-size="10.00" dy="-4.00" stroke="#1c1c1c" stroke-width="0.5">+</tspan></text>
<text x="196.15" y="348.50" font-size="10" text-anchor="end" font-weight="bold" fill="#1c1c1c" transform="rotate(-45 196.15 348.50)" >IMR90<tspan font-size="6.20" dy="-4.00">E6E7</tspan></text>
<text x="213.70" y="348.50" font-size="10" text-anchor="end" font-weight="bold" fill="#1c1c1c" transform="rotate(-45 213.70 348.50)" >PCS<tspan font-size="6.20" dy="-4.00">LT</tspan></text>
<text x="231.25" y="348.50" font-size="10" text-anchor="end" font-weight="bold" fill="#1c1c1c" transform="rotate(-45 231.25 348.50)" >PCS<tspan font-size="6.20" dy="-4.00">ST</tspan></text>
<text x="0" y="0" font-size="13.8" font-weight="bold" text-anchor="middle" fill="#1c1c1c" transform="translate(35 274.4) rotate(-90) scale(1 0.88)"><tspan font-style="italic">hTERT</tspan> expression</text>
<text x="0" y="0" font-size="13.8" font-weight="bold" text-anchor="middle" fill="#1c1c1c" transform="translate(52.6 272.4) rotate(-90) scale(1 0.88)">(to <tspan font-style="italic">ACTB</tspan> &amp; to PCS<tspan font-size="8.6" dy="-5.5">ST</tspan><tspan dy="5.5">)</tspan></text>
<clipPath id="mic1"><rect x="13.3" y="481" width="90.2" height="54.2"/></clipPath>
<clipPath id="mic2"><rect x="13.6" y="537.4" width="90.4" height="78"/></clipPath>
<rect x="13.30" y="481.00" width="90.20" height="54.20" fill="#09051c" />
<rect x="13.60" y="537.40" width="90.40" height="78.00" fill="#04022a" />
<g clip-path="url(#mic1)"><g filter="url(#chrom)">
<rect x="23.0" y="501.5" width="27" height="14" rx="6.3" fill="#1e1ee0" transform="rotate(32 36.5 508.5)"/>
<rect x="48.5" y="487.0" width="42" height="14" rx="6.3" fill="#1e1ee0" transform="rotate(-14 69.5 494)"/>
<rect x="87.5" y="503.0" width="14" height="24" rx="6.3" fill="#1e1ee0" transform="rotate(0 94.5 515)"/>
</g>
<circle cx="24.9" cy="503.6" r="1.4" fill="#f0148c" filter="url(#dotb)"/>
<circle cx="25.2" cy="506.2" r="1.4" fill="#f0148c" filter="url(#dotb)"/>
<circle cx="43" cy="517" r="1.4" fill="#f0148c" filter="url(#dotb)"/>
<circle cx="47.9" cy="510.6" r="1.4" fill="#f0148c" filter="url(#dotb)"/>
<circle cx="47.9" cy="497.5" r="1.4" fill="#f0148c" filter="url(#dotb)"/>
<circle cx="50.1" cy="501.2" r="1.4" fill="#f0148c" filter="url(#dotb)"/>
<circle cx="84.3" cy="484.2" r="1.4" fill="#f0148c" filter="url(#dotb)"/>
<circle cx="88.3" cy="493" r="1.4" fill="#f0148c" filter="url(#dotb)"/>
<circle cx="92.8" cy="503.6" r="1.4" fill="#f0148c" filter="url(#dotb)"/>
<circle cx="100.4" cy="507.1" r="1.4" fill="#f0148c" filter="url(#dotb)"/>
<circle cx="91.9" cy="524.8" r="1.4" fill="#f0148c" filter="url(#dotb)"/>
<circle cx="97.6" cy="526.9" r="1.4" fill="#f0148c" filter="url(#dotb)"/>
</g>
<g clip-path="url(#mic2)"><g filter="url(#chrom)">
<rect x="22.0" y="550.5" width="64" height="15" rx="6.8" fill="#1e1ee0" transform="rotate(31 54 558)"/>
<rect x="17.5" y="574.0" width="13" height="20" rx="5.9" fill="#1e1ee0" transform="rotate(-8 24 584)"/>
<rect x="53.5" y="581.5" width="17" height="19" rx="7.7" fill="#1e1ee0" transform="rotate(25 62 591)"/>
</g>
<circle cx="30.5" cy="541.1" r="1.5" fill="#f0148c" filter="url(#dotb)"/>
<circle cx="28.6" cy="544.6" r="1.5" fill="#f0148c" filter="url(#dotb)"/>
<circle cx="78.2" cy="569.5" r="1.5" fill="#f0148c" filter="url(#dotb)"/>
<circle cx="75.5" cy="573.5" r="1.5" fill="#f0148c" filter="url(#dotb)"/>
<circle cx="19" cy="576.4" r="1.5" fill="#f0148c" filter="url(#dotb)"/>
<circle cx="23.8" cy="574.8" r="1.5" fill="#f0148c" filter="url(#dotb)"/>
<circle cx="28.1" cy="588" r="1.5" fill="#f0148c" filter="url(#dotb)"/>
<circle cx="25.7" cy="592" r="1.5" fill="#f0148c" filter="url(#dotb)"/>
<circle cx="28.9" cy="590.9" r="1.5" fill="#f0148c" filter="url(#dotb)"/>
<circle cx="65.8" cy="584.8" r="1.5" fill="#f0148c" filter="url(#dotb)"/>
<circle cx="69.9" cy="586.4" r="1.5" fill="#f0148c" filter="url(#dotb)"/>
<circle cx="54.3" cy="595.7" r="1.5" fill="#f0148c" filter="url(#dotb)"/>
<circle cx="58.1" cy="598.8" r="1.5" fill="#f0148c" filter="url(#dotb)"/>
<path d="M40.1,541.3 L35.5,543.6 L40.1,545.9" fill="none" stroke="#fff" stroke-width="1.7" stroke-linecap="round" stroke-linejoin="round" transform="rotate(55 35.5 543.6)" filter="url(#dotb)"/>
<path d="M83.6,573.5 L79.0,575.8 L83.6,578.1" fill="none" stroke="#fff" stroke-width="1.7" stroke-linecap="round" stroke-linejoin="round" transform="rotate(55 79 575.8)" filter="url(#dotb)"/>
<path d="M35.8,583.9 L31.2,586.2 L35.8,588.5" fill="none" stroke="#fff" stroke-width="1.7" stroke-linecap="round" stroke-linejoin="round" transform="rotate(0 31.2 586.2)" filter="url(#dotb)"/>
<path d="M65.6,581.9 L61.0,584.2 L65.6,586.5" fill="none" stroke="#fff" stroke-width="1.7" stroke-linecap="round" stroke-linejoin="round" transform="rotate(-90 61 584.2)" filter="url(#dotb)"/>
<path d="M62.4,599.3 L57.8,601.6 L62.4,603.9" fill="none" stroke="#fff" stroke-width="1.7" stroke-linecap="round" stroke-linejoin="round" transform="rotate(55 57.8 601.6)" filter="url(#dotb)"/>
</g>
<line x1="16.00" y1="522.50" x2="52.70" y2="522.50" stroke="#fff" stroke-width="1.6" />
<text x="33.80" y="531.50" font-size="8.6" text-anchor="middle" font-weight="bold" fill="#fff" >5μm</text>
<line x1="16.00" y1="602.80" x2="53.00" y2="602.80" stroke="#fff" stroke-width="1.6" />
<text x="34.10" y="611.50" font-size="8.6" text-anchor="middle" font-weight="bold" fill="#fff" >5μm</text>
<text x="9.40" y="523.20" font-size="10.8" text-anchor="start" font-weight="bold" fill="#1c1c1c" transform="rotate(-90 9.40 523.20)" >PCS<tspan font-size="6.70" dy="-4.10">ST</tspan></text>
<text x="9.80" y="590.80" font-size="10.8" text-anchor="start" font-weight="bold" fill="#1c1c1c" transform="rotate(-90 9.80 590.80)" >PCS<tspan font-size="6.70" dy="-4.10">LT</tspan></text>
<line x1="164.20" y1="436.25" x2="164.20" y2="654.75" stroke="#1c1c1c" stroke-width="1.7" />
<line x1="164.20" y1="654.00" x2="274.30" y2="654.00" stroke="#1c1c1c" stroke-width="1.7" />
<line x1="157.90" y1="643.80" x2="164.20" y2="643.80" stroke="#1c1c1c" stroke-width="1.5" />
<text x="156.30" y="647.20" font-size="9.6" text-anchor="end" font-weight="bold" fill="#1c1c1c" >0</text>
<line x1="157.90" y1="592.10" x2="164.20" y2="592.10" stroke="#1c1c1c" stroke-width="1.5" />
<text x="156.30" y="595.50" font-size="9.6" text-anchor="end" font-weight="bold" fill="#1c1c1c" >5</text>
<line x1="157.90" y1="540.40" x2="164.20" y2="540.40" stroke="#1c1c1c" stroke-width="1.5" />
<text x="156.30" y="543.80" font-size="9.6" text-anchor="end" font-weight="bold" fill="#1c1c1c" >10</text>
<line x1="157.90" y1="488.70" x2="164.20" y2="488.70" stroke="#1c1c1c" stroke-width="1.5" />
<text x="156.30" y="492.10" font-size="9.6" text-anchor="end" font-weight="bold" fill="#1c1c1c" >15</text>
<line x1="157.90" y1="437.00" x2="164.20" y2="437.00" stroke="#1c1c1c" stroke-width="1.5" />
<text x="156.30" y="440.40" font-size="9.6" text-anchor="end" font-weight="bold" fill="#1c1c1c" >20</text>
<line x1="181.10" y1="654.00" x2="181.10" y2="660.40" stroke="#1c1c1c" stroke-width="1.5" />
<line x1="206.20" y1="654.00" x2="206.20" y2="660.40" stroke="#1c1c1c" stroke-width="1.5" />
<line x1="231.30" y1="654.00" x2="231.30" y2="660.40" stroke="#1c1c1c" stroke-width="1.5" />
<line x1="256.30" y1="654.00" x2="256.30" y2="660.40" stroke="#1c1c1c" stroke-width="1.5" />
<text x="164.00" y="430.00" font-size="10.5" text-anchor="end" font-weight="bold" fill="#1c1c1c" >n =</text>
<text x="178.80" y="430.00" font-size="10.5" text-anchor="middle" font-weight="bold" fill="#1c1c1c" >28</text>
<text x="205.10" y="430.00" font-size="10.5" text-anchor="middle" font-weight="bold" fill="#1c1c1c" >33</text>
<text x="231.40" y="430.00" font-size="10.5" text-anchor="middle" font-weight="bold" fill="#1c1c1c" >44</text>
<text x="257.70" y="430.00" font-size="10.5" text-anchor="middle" font-weight="bold" fill="#1c1c1c" >33</text>
<line x1="181.10" y1="614.85" x2="181.10" y2="630.36" stroke="#1c1c1c" stroke-width="1.5" />
<line x1="181.10" y1="637.60" x2="181.10" y2="643.80" stroke="#1c1c1c" stroke-width="1.5" />
<line x1="176.60" y1="614.85" x2="185.60" y2="614.85" stroke="#1c1c1c" stroke-width="1.5" />
<line x1="176.60" y1="643.80" x2="185.60" y2="643.80" stroke="#1c1c1c" stroke-width="1.5" />
<rect x="173.10" y="630.36" width="16.00" height="7.24" fill="none" stroke="#1c1c1c" stroke-width="1.5"/>
<line x1="173.10" y1="635.53" x2="189.10" y2="635.53" stroke="#1c1c1c" stroke-width="1.5" />
<circle cx="172.74" cy="643.80" r="1.9" fill="#1f8fff"/>
<circle cx="176.92" cy="643.80" r="1.9" fill="#1f8fff"/>
<circle cx="181.10" cy="643.80" r="1.9" fill="#1f8fff"/>
<circle cx="185.28" cy="643.80" r="1.9" fill="#1f8fff"/>
<circle cx="189.46" cy="643.80" r="1.9" fill="#1f8fff"/>
<circle cx="176.92" cy="639.15" r="1.9" fill="#1f8fff"/>
<circle cx="181.10" cy="639.15" r="1.9" fill="#1f8fff"/>
<circle cx="185.28" cy="639.15" r="1.9" fill="#1f8fff"/>
<circle cx="174.83" cy="637.60" r="1.9" fill="#1f8fff"/>
<circle cx="179.01" cy="637.60" r="1.9" fill="#1f8fff"/>
<circle cx="183.19" cy="637.60" r="1.9" fill="#1f8fff"/>
<circle cx="187.37" cy="637.60" r="1.9" fill="#1f8fff"/>
<circle cx="172.74" cy="635.01" r="1.9" fill="#1f8fff"/>
<circle cx="176.92" cy="635.01" r="1.9" fill="#1f8fff"/>
<circle cx="181.10" cy="635.01" r="1.9" fill="#1f8fff"/>
<circle cx="185.28" cy="635.01" r="1.9" fill="#1f8fff"/>
<circle cx="189.46" cy="635.01" r="1.9" fill="#1f8fff"/>
<circle cx="174.83" cy="632.94" r="1.9" fill="#1f8fff"/>
<circle cx="179.01" cy="632.94" r="1.9" fill="#1f8fff"/>
<circle cx="183.19" cy="632.94" r="1.9" fill="#1f8fff"/>
<circle cx="187.37" cy="632.94" r="1.9" fill="#1f8fff"/>
<circle cx="176.92" cy="630.36" r="1.9" fill="#1f8fff"/>
<circle cx="181.10" cy="630.36" r="1.9" fill="#1f8fff"/>
<circle cx="185.28" cy="630.36" r="1.9" fill="#1f8fff"/>
<circle cx="181.10" cy="627.26" r="1.9" fill="#1f8fff"/>
<circle cx="181.10" cy="623.12" r="1.9" fill="#1f8fff"/>
<circle cx="181.10" cy="618.98" r="1.9" fill="#1f8fff"/>
<circle cx="181.10" cy="614.85" r="1.9" fill="#1f8fff"/>
<line x1="206.20" y1="549.71" x2="206.20" y2="585.90" stroke="#1c1c1c" stroke-width="1.5" />
<line x1="206.20" y1="612.78" x2="206.20" y2="627.26" stroke="#1c1c1c" stroke-width="1.5" />
<line x1="201.70" y1="549.71" x2="210.70" y2="549.71" stroke="#1c1c1c" stroke-width="1.5" />
<line x1="201.70" y1="627.26" x2="210.70" y2="627.26" stroke="#1c1c1c" stroke-width="1.5" />
<rect x="198.20" y="585.90" width="16.00" height="26.88" fill="none" stroke="#1c1c1c" stroke-width="1.5"/>
<line x1="198.20" y1="599.34" x2="214.20" y2="599.34" stroke="#1c1c1c" stroke-width="1.5" />
<circle cx="202.02" cy="627.26" r="1.9" fill="#1f8fff"/>
<circle cx="206.20" cy="627.26" r="1.9" fill="#1f8fff"/>
<circle cx="210.38" cy="627.26" r="1.9" fill="#1f8fff"/>
<circle cx="204.11" cy="624.15" r="1.9" fill="#1f8fff"/>
<circle cx="208.29" cy="624.15" r="1.9" fill="#1f8fff"/>
<circle cx="204.11" cy="620.02" r="1.9" fill="#1f8fff"/>
<circle cx="208.29" cy="620.02" r="1.9" fill="#1f8fff"/>
<circle cx="206.20" cy="615.88" r="1.9" fill="#1f8fff"/>
<circle cx="206.20" cy="612.78" r="1.9" fill="#1f8fff"/>
<circle cx="206.20" cy="609.68" r="1.9" fill="#1f8fff"/>
<circle cx="206.20" cy="605.54" r="1.9" fill="#1f8fff"/>
<circle cx="204.11" cy="602.44" r="1.9" fill="#1f8fff"/>
<circle cx="208.29" cy="602.44" r="1.9" fill="#1f8fff"/>
<circle cx="197.84" cy="599.34" r="1.9" fill="#1f8fff"/>
<circle cx="202.02" cy="599.34" r="1.9" fill="#1f8fff"/>
<circle cx="206.20" cy="599.34" r="1.9" fill="#1f8fff"/>
<circle cx="210.38" cy="599.34" r="1.9" fill="#1f8fff"/>
<circle cx="214.56" cy="599.34" r="1.9" fill="#1f8fff"/>
<circle cx="206.20" cy="594.17" r="1.9" fill="#1f8fff"/>
<circle cx="206.20" cy="590.03" r="1.9" fill="#1f8fff"/>
<circle cx="202.02" cy="586.93" r="1.9" fill="#1f8fff"/>
<circle cx="206.20" cy="586.93" r="1.9" fill="#1f8fff"/>
<circle cx="210.38" cy="586.93" r="1.9" fill="#1f8fff"/>
<circle cx="204.11" cy="583.83" r="1.9" fill="#1f8fff"/>
<circle cx="208.29" cy="583.83" r="1.9" fill="#1f8fff"/>
<circle cx="206.20" cy="579.69" r="1.9" fill="#1f8fff"/>
<circle cx="206.20" cy="561.08" r="1.9" fill="#1f8fff"/>
<circle cx="204.11" cy="554.88" r="1.9" fill="#1f8fff"/>
<circle cx="208.29" cy="554.88" r="1.9" fill="#1f8fff"/>
<circle cx="206.20" cy="549.71" r="1.9" fill="#1f8fff"/>
<line x1="231.30" y1="484.56" x2="231.30" y2="547.64" stroke="#1c1c1c" stroke-width="1.5" />
<line x1="231.30" y1="583.83" x2="231.30" y2="608.64" stroke="#1c1c1c" stroke-width="1.5" />
<line x1="226.80" y1="484.56" x2="235.80" y2="484.56" stroke="#1c1c1c" stroke-width="1.5" />
<line x1="226.80" y1="608.64" x2="235.80" y2="608.64" stroke="#1c1c1c" stroke-width="1.5" />
<rect x="223.30" y="547.64" width="16.00" height="36.19" fill="none" stroke="#1c1c1c" stroke-width="1.5"/>
<line x1="223.30" y1="559.01" x2="239.30" y2="559.01" stroke="#1c1c1c" stroke-width="1.5" />
<circle cx="229.21" cy="608.64" r="1.9" fill="#1f8fff"/>
<circle cx="233.39" cy="608.64" r="1.9" fill="#1f8fff"/>
<circle cx="227.12" cy="604.51" r="1.9" fill="#1f8fff"/>
<circle cx="231.30" cy="604.51" r="1.9" fill="#1f8fff"/>
<circle cx="235.48" cy="604.51" r="1.9" fill="#1f8fff"/>
<circle cx="227.12" cy="600.37" r="1.9" fill="#1f8fff"/>
<circle cx="231.30" cy="600.37" r="1.9" fill="#1f8fff"/>
<circle cx="235.48" cy="600.37" r="1.9" fill="#1f8fff"/>
<circle cx="229.21" cy="596.24" r="1.9" fill="#1f8fff"/>
<circle cx="233.39" cy="596.24" r="1.9" fill="#1f8fff"/>
<circle cx="231.30" cy="591.07" r="1.9" fill="#1f8fff"/>
<circle cx="231.30" cy="583.83" r="1.9" fill="#1f8fff"/>
<circle cx="229.21" cy="579.69" r="1.9" fill="#1f8fff"/>
<circle cx="233.39" cy="579.69" r="1.9" fill="#1f8fff"/>
<circle cx="227.12" cy="575.56" r="1.9" fill="#1f8fff"/>
<circle cx="231.30" cy="575.56" r="1.9" fill="#1f8fff"/>
<circle cx="235.48" cy="575.56" r="1.9" fill="#1f8fff"/>
<circle cx="231.30" cy="571.42" r="1.9" fill="#1f8fff"/>
<circle cx="231.30" cy="567.28" r="1.9" fill="#1f8fff"/>
<circle cx="229.21" cy="563.15" r="1.9" fill="#1f8fff"/>
<circle cx="233.39" cy="563.15" r="1.9" fill="#1f8fff"/>
<circle cx="227.12" cy="559.01" r="1.9" fill="#1f8fff"/>
<circle cx="231.30" cy="559.01" r="1.9" fill="#1f8fff"/>
<circle cx="235.48" cy="559.01" r="1.9" fill="#1f8fff"/>
<circle cx="227.12" cy="554.88" r="1.9" fill="#1f8fff"/>
<circle cx="231.30" cy="554.88" r="1.9" fill="#1f8fff"/>
<circle cx="235.48" cy="554.88" r="1.9" fill="#1f8fff"/>
<circle cx="225.03" cy="550.74" r="1.9" fill="#1f8fff"/>
<circle cx="229.21" cy="550.74" r="1.9" fill="#1f8fff"/>
<circle cx="233.39" cy="550.74" r="1.9" fill="#1f8fff"/>
<circle cx="237.57" cy="550.74" r="1.9" fill="#1f8fff"/>
<circle cx="229.21" cy="546.60" r="1.9" fill="#1f8fff"/>
<circle cx="233.39" cy="546.60" r="1.9" fill="#1f8fff"/>
<circle cx="227.12" cy="535.23" r="1.9" fill="#1f8fff"/>
<circle cx="231.30" cy="535.23" r="1.9" fill="#1f8fff"/>
<circle cx="235.48" cy="535.23" r="1.9" fill="#1f8fff"/>
<circle cx="229.21" cy="530.06" r="1.9" fill="#1f8fff"/>
<circle cx="233.39" cy="530.06" r="1.9" fill="#1f8fff"/>
<circle cx="229.21" cy="516.62" r="1.9" fill="#1f8fff"/>
<circle cx="233.39" cy="516.62" r="1.9" fill="#1f8fff"/>
<circle cx="229.21" cy="511.45" r="1.9" fill="#1f8fff"/>
<circle cx="233.39" cy="511.45" r="1.9" fill="#1f8fff"/>
<circle cx="231.30" cy="484.56" r="1.9" fill="#1f8fff"/>
<line x1="256.30" y1="509.38" x2="256.30" y2="553.84" stroke="#1c1c1c" stroke-width="1.5" />
<line x1="256.30" y1="582.79" x2="256.30" y2="612.78" stroke="#1c1c1c" stroke-width="1.5" />
<line x1="251.80" y1="509.38" x2="260.80" y2="509.38" stroke="#1c1c1c" stroke-width="1.5" />
<line x1="251.80" y1="612.78" x2="260.80" y2="612.78" stroke="#1c1c1c" stroke-width="1.5" />
<rect x="248.30" y="553.84" width="16.00" height="28.95" fill="none" stroke="#1c1c1c" stroke-width="1.5"/>
<line x1="248.30" y1="571.42" x2="264.30" y2="571.42" stroke="#1c1c1c" stroke-width="1.5" />
<circle cx="254.21" cy="612.78" r="1.9" fill="#1f8fff"/>
<circle cx="258.39" cy="612.78" r="1.9" fill="#1f8fff"/>
<circle cx="256.30" cy="603.47" r="1.9" fill="#1f8fff"/>
<circle cx="256.30" cy="599.34" r="1.9" fill="#1f8fff"/>
<circle cx="256.30" cy="595.20" r="1.9" fill="#1f8fff"/>
<circle cx="254.21" cy="590.03" r="1.9" fill="#1f8fff"/>
<circle cx="258.39" cy="590.03" r="1.9" fill="#1f8fff"/>
<circle cx="256.30" cy="585.90" r="1.9" fill="#1f8fff"/>
<circle cx="256.30" cy="582.79" r="1.9" fill="#1f8fff"/>
<circle cx="254.21" cy="578.66" r="1.9" fill="#1f8fff"/>
<circle cx="258.39" cy="578.66" r="1.9" fill="#1f8fff"/>
<circle cx="254.21" cy="574.52" r="1.9" fill="#1f8fff"/>
<circle cx="258.39" cy="574.52" r="1.9" fill="#1f8fff"/>
<circle cx="252.12" cy="571.42" r="1.9" fill="#1f8fff"/>
<circle cx="256.30" cy="571.42" r="1.9" fill="#1f8fff"/>
<circle cx="260.48" cy="571.42" r="1.9" fill="#1f8fff"/>
<circle cx="254.21" cy="567.28" r="1.9" fill="#1f8fff"/>
<circle cx="258.39" cy="567.28" r="1.9" fill="#1f8fff"/>
<circle cx="254.21" cy="563.15" r="1.9" fill="#1f8fff"/>
<circle cx="258.39" cy="563.15" r="1.9" fill="#1f8fff"/>
<circle cx="254.21" cy="559.01" r="1.9" fill="#1f8fff"/>
<circle cx="258.39" cy="559.01" r="1.9" fill="#1f8fff"/>
<circle cx="252.12" cy="554.88" r="1.9" fill="#1f8fff"/>
<circle cx="256.30" cy="554.88" r="1.9" fill="#1f8fff"/>
<circle cx="260.48" cy="554.88" r="1.9" fill="#1f8fff"/>
<circle cx="254.21" cy="550.74" r="1.9" fill="#1f8fff"/>
<circle cx="258.39" cy="550.74" r="1.9" fill="#1f8fff"/>
<circle cx="256.30" cy="542.47" r="1.9" fill="#1f8fff"/>
<circle cx="256.30" cy="537.30" r="1.9" fill="#1f8fff"/>
<circle cx="256.30" cy="529.03" r="1.9" fill="#1f8fff"/>
<circle cx="256.30" cy="521.79" r="1.9" fill="#1f8fff"/>
<circle cx="256.30" cy="509.38" r="1.9" fill="#1f8fff"/>
<line x1="179.40" y1="539.70" x2="205.70" y2="539.70" stroke="#3a3a3a" stroke-width="1.3" />
<text x="192.50" y="537.60" font-size="8.8" text-anchor="middle" font-weight="normal" fill="#3a3a3a" >0.0005</text>
<line x1="203.60" y1="475.50" x2="232.80" y2="475.50" stroke="#3a3a3a" stroke-width="1.3" />
<text x="218.20" y="473.40" font-size="8.8" text-anchor="middle" font-weight="normal" fill="#3a3a3a" >&lt;0.0001</text>
<line x1="205.10" y1="448.60" x2="260.60" y2="448.60" stroke="#3a3a3a" stroke-width="1.3" />
<text x="232.80" y="446.50" font-size="8.8" text-anchor="middle" font-weight="normal" fill="#3a3a3a" >0.002</text>
<text x="185.10" y="670.50" font-size="10" text-anchor="end" font-weight="bold" fill="#1c1c1c" transform="rotate(-45 185.10 670.50)" >PCS<tspan font-size="6.20" dy="-4.00">ST</tspan></text>
<text x="210.20" y="670.50" font-size="10" text-anchor="end" font-weight="bold" fill="#1c1c1c" transform="rotate(-45 210.20 670.50)" >PCS<tspan font-size="6.20" dy="-4.00">LT</tspan></text>
<text x="235.30" y="670.50" font-size="10" text-anchor="end" font-weight="bold" fill="#1c1c1c" transform="rotate(-45 235.30 670.50)" >U2OS/ALT<tspan font-size="10.00" dy="-4.00" stroke="#1c1c1c" stroke-width="0.5">+</tspan></text>
<text x="260.30" y="670.50" font-size="10" text-anchor="end" font-weight="bold" fill="#1c1c1c" transform="rotate(-45 260.30 670.50)" >IMRB/ALT<tspan font-size="10.00" dy="-4.00" stroke="#1c1c1c" stroke-width="0.5">+</tspan></text>
<text x="120.60" y="546.20" font-size="14" text-anchor="middle" font-weight="bold" fill="#1c1c1c" transform="rotate(-90 120.60 546.20)" >Fragility</text>
<text x="0" y="0" font-size="13.4" font-weight="bold" text-anchor="middle" fill="#1c1c1c" transform="translate(135.8 540.6) rotate(-90) scale(1 0.92)">(% telomeres per metaphase)</text>
<rect x="94.30" y="763.20" width="76.50" height="50.20" fill="#ececec" stroke="#444" stroke-width="1"/>
<rect x="103.0" y="771.0" width="1.2" height="10" fill="#d4d4d4" filter="url(#b05)"/>
<rect x="103.0" y="796.0" width="1.2" height="10" fill="#d4d4d4" filter="url(#b05)"/>
<rect x="121.4" y="771.0" width="1.2" height="10" fill="#d4d4d4" filter="url(#b05)"/>
<rect x="121.4" y="796.0" width="1.2" height="10" fill="#d4d4d4" filter="url(#b05)"/>
<rect x="141.0" y="771.0" width="1.2" height="10" fill="#d4d4d4" filter="url(#b05)"/>
<rect x="141.0" y="796.0" width="1.2" height="10" fill="#d4d4d4" filter="url(#b05)"/>
<rect x="157.4" y="771.0" width="1.2" height="10" fill="#d4d4d4" filter="url(#b05)"/>
<rect x="157.4" y="796.0" width="1.2" height="10" fill="#d4d4d4" filter="url(#b05)"/>
<rect x="156.6" y="769.5" width="2.6" height="11" rx="1.2" fill="#111" filter="url(#b05)"/>
<ellipse cx="158" cy="775" rx="4" ry="8" fill="#555" opacity="0.35" filter="url(#b2)"/>
<text x="91.00" y="779.50" font-size="10" text-anchor="end" font-weight="bold" fill="#1c1c1c" >+Φ29</text>
<text x="91.00" y="804.30" font-size="10" text-anchor="end" font-weight="bold" fill="#1c1c1c" >-Φ29</text>
<text x="102.70" y="760.00" font-size="10.4" text-anchor="start" font-weight="bold" fill="#1c1c1c" transform="rotate(-42 102.70 760.00)" >PCS<tspan font-size="6.45" dy="-4.16">ST</tspan></text>
<text x="122.80" y="760.00" font-size="10.4" text-anchor="start" font-weight="bold" fill="#1c1c1c" transform="rotate(-42 122.80 760.00)" >PCS<tspan font-size="6.45" dy="-4.16">LT</tspan></text>
<text x="147.30" y="760.00" font-size="10.4" text-anchor="start" font-weight="bold" fill="#1c1c1c" transform="rotate(-42 147.30 760.00)" >SW39/TEL<tspan font-size="10.40" dy="-4.16" stroke="#1c1c1c" stroke-width="0.5">+</tspan></text>
<text x="166.00" y="760.00" font-size="10.4" text-anchor="start" font-weight="bold" fill="#1c1c1c" transform="rotate(-42 166.00 760.00)" >IMRB/ALT<tspan font-size="10.40" dy="-4.16" stroke="#1c1c1c" stroke-width="0.5">+</tspan></text>
<line x1="86.10" y1="821.15" x2="86.10" y2="914.05" stroke="#1c1c1c" stroke-width="1.7" />
<line x1="86.10" y1="913.30" x2="178.10" y2="913.30" stroke="#1c1c1c" stroke-width="1.7" />
<line x1="80.60" y1="913.30" x2="86.10" y2="913.30" stroke="#1c1c1c" stroke-width="1.5" />
<text x="79.90" y="916.60" font-size="9.4" text-anchor="end" font-weight="bold" fill="#1c1c1c" >0</text>
<line x1="80.60" y1="895.00" x2="86.10" y2="895.00" stroke="#1c1c1c" stroke-width="1.5" />
<text x="79.90" y="898.30" font-size="9.4" text-anchor="end" font-weight="bold" fill="#1c1c1c" >10</text>
<line x1="80.60" y1="876.70" x2="86.10" y2="876.70" stroke="#1c1c1c" stroke-width="1.5" />
<text x="79.90" y="880.00" font-size="9.4" text-anchor="end" font-weight="bold" fill="#1c1c1c" >20</text>
<line x1="80.60" y1="858.40" x2="86.10" y2="858.40" stroke="#1c1c1c" stroke-width="1.5" />
<text x="79.90" y="861.70" font-size="9.4" text-anchor="end" font-weight="bold" fill="#1c1c1c" >30</text>
<line x1="80.60" y1="840.10" x2="86.10" y2="840.10" stroke="#1c1c1c" stroke-width="1.5" />
<text x="79.90" y="843.40" font-size="9.4" text-anchor="end" font-weight="bold" fill="#1c1c1c" >40</text>
<line x1="80.60" y1="821.80" x2="86.10" y2="821.80" stroke="#1c1c1c" stroke-width="1.5" />
<text x="79.90" y="825.10" font-size="9.4" text-anchor="end" font-weight="bold" fill="#1c1c1c" >50</text>
<line x1="99.30" y1="913.30" x2="99.30" y2="919.00" stroke="#1c1c1c" stroke-width="1.5" />
<line x1="121.20" y1="913.30" x2="121.20" y2="919.00" stroke="#1c1c1c" stroke-width="1.5" />
<line x1="142.50" y1="913.30" x2="142.50" y2="919.00" stroke="#1c1c1c" stroke-width="1.5" />
<line x1="163.50" y1="913.30" x2="163.50" y2="919.00" stroke="#1c1c1c" stroke-width="1.5" />
<rect x="113.90" y="900.12" width="14.60" height="12.38" fill="#878787" />
<rect x="156.50" y="857.48" width="14.00" height="55.02" fill="#878787" />
<line x1="121.20" y1="904.15" x2="121.20" y2="895.91" stroke="#ff1a1a" stroke-width="1.3" />
<line x1="117.70" y1="904.15" x2="124.70" y2="904.15" stroke="#ff1a1a" stroke-width="1.3" />
<line x1="117.70" y1="895.91" x2="124.70" y2="895.91" stroke="#ff1a1a" stroke-width="1.3" />
<line x1="163.50" y1="873.04" x2="163.50" y2="841.93" stroke="#ff1a1a" stroke-width="1.3" />
<line x1="160.00" y1="873.04" x2="167.00" y2="873.04" stroke="#ff1a1a" stroke-width="1.3" />
<line x1="160.00" y1="841.93" x2="167.00" y2="841.93" stroke="#ff1a1a" stroke-width="1.3" />
<circle cx="93.30" cy="911.65" r="1.4" fill="#1c1c1c"/>
<circle cx="97.30" cy="911.65" r="1.4" fill="#1c1c1c"/>
<circle cx="101.30" cy="911.65" r="1.4" fill="#1c1c1c"/>
<circle cx="105.30" cy="911.65" r="1.4" fill="#1c1c1c"/>
<circle cx="121.20" cy="890.79" r="1.4" fill="#1c1c1c"/>
<circle cx="121.20" cy="895.37" r="1.4" fill="#1c1c1c"/>
<circle cx="117.20" cy="907.81" r="1.4" fill="#1c1c1c"/>
<circle cx="125.20" cy="907.81" r="1.4" fill="#1c1c1c"/>
<circle cx="138.50" cy="911.84" r="1.4" fill="#1c1c1c"/>
<circle cx="142.50" cy="911.84" r="1.4" fill="#1c1c1c"/>
<circle cx="146.50" cy="911.84" r="1.4" fill="#1c1c1c"/>
<circle cx="163.50" cy="828.20" r="1.4" fill="#1c1c1c"/>
<circle cx="163.50" cy="862.97" r="1.4" fill="#1c1c1c"/>
<circle cx="163.50" cy="880.36" r="1.4" fill="#1c1c1c"/>
<line x1="139.50" y1="911.84" x2="145.50" y2="911.84" stroke="#ff1a1a" stroke-width="1.3" />
<line x1="97.80" y1="883.20" x2="119.70" y2="883.20" stroke="#3a3a3a" stroke-width="1.3" />
<text x="108.80" y="880.00" font-size="8.8" text-anchor="middle" font-weight="normal" fill="#3a3a3a" >0.01</text>
<text x="104.80" y="927.50" font-size="10.4" text-anchor="end" font-weight="bold" fill="#1c1c1c" transform="rotate(-45 104.80 927.50)" >PCS<tspan font-size="6.45" dy="-4.16">ST</tspan></text>
<text x="126.70" y="927.50" font-size="10.4" text-anchor="end" font-weight="bold" fill="#1c1c1c" transform="rotate(-45 126.70 927.50)" >PCS<tspan font-size="6.45" dy="-4.16">LT</tspan></text>
<text x="148.00" y="927.50" font-size="10.4" text-anchor="end" font-weight="bold" fill="#1c1c1c" transform="rotate(-45 148.00 927.50)" >SW39/TEL<tspan font-size="10.40" dy="-4.16" stroke="#1c1c1c" stroke-width="0.5">+</tspan></text>
<text x="169.00" y="927.50" font-size="10.4" text-anchor="end" font-weight="bold" fill="#1c1c1c" transform="rotate(-45 169.00 927.50)" >IMRB/ALT<tspan font-size="10.40" dy="-4.16" stroke="#1c1c1c" stroke-width="0.5">+</tspan></text>
<text x="48.00" y="871.80" font-size="13.8" text-anchor="middle" font-weight="bold" fill="#1c1c1c" transform="rotate(-90 48.00 871.80)" >C-circles</text>
<text x="63.5" y="870.7" font-size="13.8" font-weight="bold" text-anchor="middle" fill="#1c1c1c" transform="rotate(-90 63.5 870.7)">(to PCS<tspan font-size="8.6" dy="-5.5">ST</tspan><tspan dy="5.5">)</tspan></text>
<text x="387.30" y="533.80" font-size="10.6" text-anchor="middle" font-weight="bold" fill="#1c1c1c" >PCS<tspan font-size="7.00" dy="-4.24">ST</tspan><tspan dy="4.24">-hTERT</tspan></text>
<line x1="368.80" y1="536.70" x2="424.40" y2="536.70" stroke="#1c1c1c" stroke-width="1.6" />
<clipPath id="gF1"><rect x="319.9" y="581.1" width="78.70000000000005" height="330.9"/></clipPath>
<clipPath id="gF2"><rect x="399.6" y="581.1" width="24.299999999999955" height="330.9"/></clipPath>
<rect x="319.90" y="581.10" width="78.70" height="330.90" fill="#dbdbdb" />
<rect x="399.60" y="581.10" width="24.30" height="330.90" fill="#d2d2d2" />
<g clip-path="url(#gF1)">
<rect x="324.10" y="582.00" width="14.00" height="330.00" fill="url(#vg9)" filter="url(#b15)" opacity="1"/>
<g filter="url(#bs)" fill="#000"><rect x="322.60" y="654.00" width="17.00" height="20.88" rx="5.44" ry="6.38"/><ellipse cx="331.10" cy="673.14" rx="6.00" ry="9.86"/></g>
<rect x="324.60" y="584.50" width="13.00" height="3.00" fill="#0a0a0a" filter="url(#b05)"/>
<rect x="342.80" y="582.00" width="14.00" height="330.00" fill="url(#vg10)" filter="url(#b15)" opacity="1"/>
<rect x="362.10" y="582.00" width="13.00" height="330.00" fill="url(#vg11)" filter="url(#b15)" opacity="1"/>
<rect x="381.00" y="582.00" width="13.00" height="330.00" fill="url(#vg12)" filter="url(#b15)" opacity="1"/>
<g filter="url(#bs)" fill="#000"><rect x="379.75" y="656.00" width="15.50" height="18.00" rx="4.96" ry="5.50"/><ellipse cx="387.50" cy="672.50" rx="6.00" ry="8.50"/></g>
<rect x="383.50" y="584.25" width="8.00" height="1.50" fill="#969696" filter="url(#b05)"/>
<rect x="324.60" y="840.50" width="13.00" height="3.00" fill="#b6b6b6" filter="url(#b1)"/>
<rect x="324.60" y="856.50" width="13.00" height="3.00" fill="#b2b2b2" filter="url(#b1)"/>
<rect x="324.60" y="904.50" width="13.00" height="3.00" fill="#c2c2c2" filter="url(#b1)"/>
<rect x="343.30" y="840.50" width="13.00" height="3.00" fill="#b6b6b6" filter="url(#b1)"/>
<rect x="343.30" y="856.50" width="13.00" height="3.00" fill="#b2b2b2" filter="url(#b1)"/>
<rect x="343.30" y="904.50" width="13.00" height="3.00" fill="#c2c2c2" filter="url(#b1)"/>
<rect x="362.10" y="840.50" width="13.00" height="3.00" fill="#b6b6b6" filter="url(#b1)"/>
<rect x="362.10" y="856.50" width="13.00" height="3.00" fill="#b2b2b2" filter="url(#b1)"/>
<rect x="362.10" y="904.50" width="13.00" height="3.00" fill="#c2c2c2" filter="url(#b1)"/>
<rect x="381.00" y="840.50" width="13.00" height="3.00" fill="#b6b6b6" filter="url(#b1)"/>
<rect x="381.00" y="856.50" width="13.00" height="3.00" fill="#b2b2b2" filter="url(#b1)"/>
<rect x="381.00" y="904.50" width="13.00" height="3.00" fill="#c2c2c2" filter="url(#b1)"/>
</g>
<g clip-path="url(#gF2)">
<rect x="402.00" y="582.00" width="20.00" height="330.00" fill="url(#vg13)" filter="url(#b3)" opacity="1"/>
<rect x="399.6" y="581.1" width="24.299999999999955" height="330.9" filter="url(#noise)" opacity="0.22"/>
<g filter="url(#bs)" fill="#000"><rect x="402.50" y="654.00" width="19.00" height="21.60" rx="6.08" ry="6.60"/><ellipse cx="412.00" cy="673.80" rx="6.50" ry="10.20"/></g>
</g>
<rect x="319.9" y="581.1" width="78.70000000000005" height="330.9" fill="none" stroke="#444" stroke-width="1"/>
<rect x="399.6" y="581.1" width="24.299999999999955" height="330.9" fill="none" stroke="#444" stroke-width="1"/>
<text x="307.00" y="687.00" font-size="8.3" text-anchor="end" font-weight="bold" fill="#1c1c1c" >kb</text>
<text x="436.20" y="687.00" font-size="8.3" text-anchor="start" font-weight="bold" fill="#1c1c1c" >kb</text>
<line x1="309.00" y1="696.60" x2="319.90" y2="696.60" stroke="#1c1c1c" stroke-width="2.6" />
<line x1="423.90" y1="696.60" x2="434.00" y2="696.60" stroke="#1c1c1c" stroke-width="2.6" />
<text x="306.80" y="699.60" font-size="8.3" text-anchor="end" font-weight="bold" fill="#1c1c1c" >10</text>
<text x="436.20" y="699.60" font-size="8.3" text-anchor="start" font-weight="bold" fill="#1c1c1c" >10</text>
<line x1="309.00" y1="709.70" x2="319.90" y2="709.70" stroke="#1c1c1c" stroke-width="2.6" />
<line x1="423.90" y1="709.70" x2="434.00" y2="709.70" stroke="#1c1c1c" stroke-width="2.6" />
<text x="306.80" y="712.70" font-size="8.3" text-anchor="end" font-weight="bold" fill="#1c1c1c" >8</text>
<text x="436.20" y="712.70" font-size="8.3" text-anchor="start" font-weight="bold" fill="#1c1c1c" >8</text>
<line x1="309.00" y1="730.70" x2="319.90" y2="730.70" stroke="#1c1c1c" stroke-width="2.6" />
<line x1="423.90" y1="730.70" x2="434.00" y2="730.70" stroke="#1c1c1c" stroke-width="2.6" />
<text x="306.80" y="733.70" font-size="8.3" text-anchor="end" font-weight="bold" fill="#1c1c1c" >6</text>
<text x="436.20" y="733.70" font-size="8.3" text-anchor="start" font-weight="bold" fill="#1c1c1c" >6</text>
<line x1="309.00" y1="750.80" x2="319.90" y2="750.80" stroke="#1c1c1c" stroke-width="2.6" />
<line x1="423.90" y1="750.80" x2="434.00" y2="750.80" stroke="#1c1c1c" stroke-width="2.6" />
<text x="306.80" y="753.80" font-size="8.3" text-anchor="end" font-weight="bold" fill="#1c1c1c" >5</text>
<text x="436.20" y="753.80" font-size="8.3" text-anchor="start" font-weight="bold" fill="#1c1c1c" >5</text>
<line x1="309.00" y1="777.20" x2="319.90" y2="777.20" stroke="#1c1c1c" stroke-width="2.6" />
<line x1="423.90" y1="777.20" x2="434.00" y2="777.20" stroke="#1c1c1c" stroke-width="2.6" />
<text x="306.80" y="780.20" font-size="8.3" text-anchor="end" font-weight="bold" fill="#1c1c1c" >4</text>
<text x="436.20" y="780.20" font-size="8.3" text-anchor="start" font-weight="bold" fill="#1c1c1c" >4</text>
<line x1="309.00" y1="808.40" x2="319.90" y2="808.40" stroke="#1c1c1c" stroke-width="2.6" />
<line x1="423.90" y1="808.40" x2="434.00" y2="808.40" stroke="#1c1c1c" stroke-width="2.6" />
<text x="306.80" y="811.40" font-size="8.3" text-anchor="end" font-weight="bold" fill="#1c1c1c" >3</text>
<text x="436.20" y="811.40" font-size="8.3" text-anchor="start" font-weight="bold" fill="#1c1c1c" >3</text>
<line x1="309.00" y1="834.30" x2="319.90" y2="834.30" stroke="#1c1c1c" stroke-width="2.6" />
<line x1="423.90" y1="834.30" x2="434.00" y2="834.30" stroke="#1c1c1c" stroke-width="2.6" />
<text x="306.80" y="837.30" font-size="8.3" text-anchor="end" font-weight="bold" fill="#1c1c1c" >2.5</text>
<text x="436.20" y="837.30" font-size="8.3" text-anchor="start" font-weight="bold" fill="#1c1c1c" >2.5</text>
<line x1="309.00" y1="865.10" x2="319.90" y2="865.10" stroke="#1c1c1c" stroke-width="2.6" />
<line x1="423.90" y1="865.10" x2="434.00" y2="865.10" stroke="#1c1c1c" stroke-width="2.6" />
<text x="306.80" y="868.10" font-size="8.3" text-anchor="end" font-weight="bold" fill="#1c1c1c" >2</text>
<text x="436.20" y="868.10" font-size="8.3" text-anchor="start" font-weight="bold" fill="#1c1c1c" >2</text>
<line x1="309.00" y1="905.00" x2="319.90" y2="905.00" stroke="#1c1c1c" stroke-width="2.6" />
<line x1="423.90" y1="905.00" x2="434.00" y2="905.00" stroke="#1c1c1c" stroke-width="2.6" />
<text x="306.80" y="908.00" font-size="8.3" text-anchor="end" font-weight="bold" fill="#1c1c1c" >1.5</text>
<text x="436.20" y="908.00" font-size="8.3" text-anchor="start" font-weight="bold" fill="#1c1c1c" >1.5</text>
<rect x="319.90" y="918.10" width="78.50" height="40.30" fill="#cdcdcd" stroke="#444" stroke-width="1"/>
<rect x="328.5" y="926.3" width="2" height="7" fill="#8a8a8a" filter="url(#b05)"/>
<rect x="384.4" y="926.3" width="2" height="7" fill="#8e8e8e" filter="url(#b05)"/>
<rect x="367" y="928" width="1.2" height="4" fill="#b4b4b4" filter="url(#b05)"/>
<text x="314.00" y="934.50" font-size="10" text-anchor="end" font-weight="bold" fill="#1c1c1c" >+Φ29</text>
<text x="314.00" y="951.50" font-size="10" text-anchor="end" font-weight="bold" fill="#1c1c1c" >-Φ29</text>
<text x="330.60" y="580.00" font-size="10.6" text-anchor="start" font-weight="bold" fill="#1c1c1c" transform="rotate(-45 330.60 580.00)" >PCS<tspan font-size="6.57" dy="-4.03">LT</tspan></text>
<text x="350.70" y="580.00" font-size="10.6" text-anchor="start" font-weight="bold" fill="#1c1c1c" transform="rotate(-45 350.70 580.00)" >PCS<tspan font-size="6.57" dy="-4.03">ST</tspan></text>
<text x="370.00" y="580.00" font-size="10.6" text-anchor="start" font-weight="bold" fill="#1c1c1c" transform="rotate(-45 370.00 580.00)" >PD10</text>
<text x="388.50" y="580.00" font-size="10.6" text-anchor="start" font-weight="bold" fill="#1c1c1c" transform="rotate(-45 388.50 580.00)" >PD40</text>
<text x="409.50" y="580.00" font-size="10.6" text-anchor="start" font-weight="bold" fill="#1c1c1c" transform="rotate(-45 409.50 580.00)" >PD78</text>
<line x1="520.80" y1="546.45" x2="520.80" y2="764.75" stroke="#1c1c1c" stroke-width="1.7" />
<line x1="520.80" y1="764.00" x2="685.00" y2="764.00" stroke="#1c1c1c" stroke-width="1.7" />
<line x1="515.30" y1="754.60" x2="520.80" y2="754.60" stroke="#1c1c1c" stroke-width="1.5" />
<text x="512.40" y="758.20" font-size="10" text-anchor="end" font-weight="bold" fill="#1c1c1c" >0</text>
<line x1="515.30" y1="702.70" x2="520.80" y2="702.70" stroke="#1c1c1c" stroke-width="1.5" />
<text x="512.40" y="706.30" font-size="10" text-anchor="end" font-weight="bold" fill="#1c1c1c" >5</text>
<line x1="515.30" y1="650.80" x2="520.80" y2="650.80" stroke="#1c1c1c" stroke-width="1.5" />
<text x="512.40" y="654.40" font-size="10" text-anchor="end" font-weight="bold" fill="#1c1c1c" >10</text>
<line x1="515.30" y1="598.90" x2="520.80" y2="598.90" stroke="#1c1c1c" stroke-width="1.5" />
<text x="512.40" y="602.50" font-size="10" text-anchor="end" font-weight="bold" fill="#1c1c1c" >15</text>
<line x1="515.30" y1="547.00" x2="520.80" y2="547.00" stroke="#1c1c1c" stroke-width="1.5" />
<text x="512.40" y="550.60" font-size="10" text-anchor="end" font-weight="bold" fill="#1c1c1c" >20</text>
<line x1="537.30" y1="764.00" x2="537.30" y2="770.50" stroke="#1c1c1c" stroke-width="1.5" />
<line x1="563.40" y1="764.00" x2="563.40" y2="770.50" stroke="#1c1c1c" stroke-width="1.5" />
<line x1="588.60" y1="764.00" x2="588.60" y2="770.50" stroke="#1c1c1c" stroke-width="1.5" />
<line x1="614.50" y1="764.00" x2="614.50" y2="770.50" stroke="#1c1c1c" stroke-width="1.5" />
<line x1="640.30" y1="764.00" x2="640.30" y2="770.50" stroke="#1c1c1c" stroke-width="1.5" />
<line x1="666.00" y1="764.00" x2="666.00" y2="770.50" stroke="#1c1c1c" stroke-width="1.5" />
<text x="521.50" y="531.20" font-size="10.5" text-anchor="end" font-weight="bold" fill="#1c1c1c" >n =</text>
<text x="535.50" y="531.20" font-size="10.5" text-anchor="middle" font-weight="bold" fill="#1c1c1c" >28</text>
<text x="562.30" y="531.20" font-size="10.5" text-anchor="middle" font-weight="bold" fill="#1c1c1c" >12</text>
<text x="588.40" y="531.20" font-size="10.5" text-anchor="middle" font-weight="bold" fill="#1c1c1c" >34</text>
<text x="614.20" y="531.20" font-size="10.5" text-anchor="middle" font-weight="bold" fill="#1c1c1c" >11</text>
<text x="639.20" y="531.20" font-size="10.5" text-anchor="middle" font-weight="bold" fill="#1c1c1c" >37</text>
<text x="662.80" y="531.20" font-size="10.5" text-anchor="middle" font-weight="bold" fill="#1c1c1c" >33</text>
<line x1="537.30" y1="725.54" x2="537.30" y2="741.11" stroke="#1c1c1c" stroke-width="1.5" />
<line x1="537.30" y1="748.37" x2="537.30" y2="754.60" stroke="#1c1c1c" stroke-width="1.5" />
<line x1="532.80" y1="725.54" x2="541.80" y2="725.54" stroke="#1c1c1c" stroke-width="1.5" />
<line x1="532.80" y1="754.60" x2="541.80" y2="754.60" stroke="#1c1c1c" stroke-width="1.5" />
<rect x="529.05" y="741.11" width="16.50" height="7.27" fill="none" stroke="#1c1c1c" stroke-width="1.5"/>
<line x1="529.05" y1="746.30" x2="545.55" y2="746.30" stroke="#1c1c1c" stroke-width="1.5" />
<circle cx="528.94" cy="754.60" r="1.9" fill="#1f8fff"/>
<circle cx="533.12" cy="754.60" r="1.9" fill="#1f8fff"/>
<circle cx="537.30" cy="754.60" r="1.9" fill="#1f8fff"/>
<circle cx="541.48" cy="754.60" r="1.9" fill="#1f8fff"/>
<circle cx="545.66" cy="754.60" r="1.9" fill="#1f8fff"/>
<circle cx="533.12" cy="749.93" r="1.9" fill="#1f8fff"/>
<circle cx="537.30" cy="749.93" r="1.9" fill="#1f8fff"/>
<circle cx="541.48" cy="749.93" r="1.9" fill="#1f8fff"/>
<circle cx="531.03" cy="748.37" r="1.9" fill="#1f8fff"/>
<circle cx="535.21" cy="748.37" r="1.9" fill="#1f8fff"/>
<circle cx="539.39" cy="748.37" r="1.9" fill="#1f8fff"/>
<circle cx="543.57" cy="748.37" r="1.9" fill="#1f8fff"/>
<circle cx="528.94" cy="745.78" r="1.9" fill="#1f8fff"/>
<circle cx="533.12" cy="745.78" r="1.9" fill="#1f8fff"/>
<circle cx="537.30" cy="745.78" r="1.9" fill="#1f8fff"/>
<circle cx="541.48" cy="745.78" r="1.9" fill="#1f8fff"/>
<circle cx="545.66" cy="745.78" r="1.9" fill="#1f8fff"/>
<circle cx="531.03" cy="743.70" r="1.9" fill="#1f8fff"/>
<circle cx="535.21" cy="743.70" r="1.9" fill="#1f8fff"/>
<circle cx="539.39" cy="743.70" r="1.9" fill="#1f8fff"/>
<circle cx="543.57" cy="743.70" r="1.9" fill="#1f8fff"/>
<circle cx="533.12" cy="741.11" r="1.9" fill="#1f8fff"/>
<circle cx="537.30" cy="741.11" r="1.9" fill="#1f8fff"/>
<circle cx="541.48" cy="741.11" r="1.9" fill="#1f8fff"/>
<circle cx="537.30" cy="737.99" r="1.9" fill="#1f8fff"/>
<circle cx="537.30" cy="733.84" r="1.9" fill="#1f8fff"/>
<circle cx="537.30" cy="729.69" r="1.9" fill="#1f8fff"/>
<circle cx="537.30" cy="725.54" r="1.9" fill="#1f8fff"/>
<line x1="563.40" y1="725.54" x2="563.40" y2="732.28" stroke="#1c1c1c" stroke-width="1.5" />
<line x1="563.40" y1="741.62" x2="563.40" y2="743.18" stroke="#1c1c1c" stroke-width="1.5" />
<line x1="558.90" y1="725.54" x2="567.90" y2="725.54" stroke="#1c1c1c" stroke-width="1.5" />
<line x1="558.90" y1="743.18" x2="567.90" y2="743.18" stroke="#1c1c1c" stroke-width="1.5" />
<rect x="555.15" y="732.28" width="16.50" height="9.34" fill="none" stroke="#1c1c1c" stroke-width="1.5"/>
<line x1="555.15" y1="735.92" x2="571.65" y2="735.92" stroke="#1c1c1c" stroke-width="1.5" />
<circle cx="559.22" cy="743.18" r="1.9" fill="#1f8fff"/>
<circle cx="563.40" cy="743.18" r="1.9" fill="#1f8fff"/>
<circle cx="567.58" cy="743.18" r="1.9" fill="#1f8fff"/>
<circle cx="561.31" cy="741.11" r="1.9" fill="#1f8fff"/>
<circle cx="565.49" cy="741.11" r="1.9" fill="#1f8fff"/>
<circle cx="561.31" cy="735.92" r="1.9" fill="#1f8fff"/>
<circle cx="565.49" cy="735.92" r="1.9" fill="#1f8fff"/>
<circle cx="559.22" cy="732.80" r="1.9" fill="#1f8fff"/>
<circle cx="563.40" cy="732.80" r="1.9" fill="#1f8fff"/>
<circle cx="567.58" cy="732.80" r="1.9" fill="#1f8fff"/>
<circle cx="563.40" cy="728.65" r="1.9" fill="#1f8fff"/>
<circle cx="563.40" cy="725.54" r="1.9" fill="#1f8fff"/>
<line x1="588.60" y1="668.45" x2="588.60" y2="699.59" stroke="#1c1c1c" stroke-width="1.5" />
<line x1="588.60" y1="720.35" x2="588.60" y2="733.84" stroke="#1c1c1c" stroke-width="1.5" />
<line x1="584.10" y1="668.45" x2="593.10" y2="668.45" stroke="#1c1c1c" stroke-width="1.5" />
<line x1="584.10" y1="733.84" x2="593.10" y2="733.84" stroke="#1c1c1c" stroke-width="1.5" />
<rect x="580.35" y="699.59" width="16.50" height="20.76" fill="none" stroke="#1c1c1c" stroke-width="1.5"/>
<line x1="580.35" y1="711.00" x2="596.85" y2="711.00" stroke="#1c1c1c" stroke-width="1.5" />
<circle cx="586.51" cy="733.84" r="1.9" fill="#1f8fff"/>
<circle cx="590.69" cy="733.84" r="1.9" fill="#1f8fff"/>
<circle cx="586.51" cy="730.73" r="1.9" fill="#1f8fff"/>
<circle cx="590.69" cy="730.73" r="1.9" fill="#1f8fff"/>
<circle cx="586.51" cy="726.57" r="1.9" fill="#1f8fff"/>
<circle cx="590.69" cy="726.57" r="1.9" fill="#1f8fff"/>
<circle cx="584.42" cy="723.46" r="1.9" fill="#1f8fff"/>
<circle cx="588.60" cy="723.46" r="1.9" fill="#1f8fff"/>
<circle cx="592.78" cy="723.46" r="1.9" fill="#1f8fff"/>
<circle cx="584.42" cy="720.35" r="1.9" fill="#1f8fff"/>
<circle cx="588.60" cy="720.35" r="1.9" fill="#1f8fff"/>
<circle cx="592.78" cy="720.35" r="1.9" fill="#1f8fff"/>
<circle cx="586.51" cy="717.23" r="1.9" fill="#1f8fff"/>
<circle cx="590.69" cy="717.23" r="1.9" fill="#1f8fff"/>
<circle cx="588.60" cy="715.16" r="1.9" fill="#1f8fff"/>
<circle cx="584.42" cy="713.08" r="1.9" fill="#1f8fff"/>
<circle cx="588.60" cy="713.08" r="1.9" fill="#1f8fff"/>
<circle cx="592.78" cy="713.08" r="1.9" fill="#1f8fff"/>
<circle cx="584.42" cy="711.00" r="1.9" fill="#1f8fff"/>
<circle cx="588.60" cy="711.00" r="1.9" fill="#1f8fff"/>
<circle cx="592.78" cy="711.00" r="1.9" fill="#1f8fff"/>
<circle cx="586.51" cy="707.89" r="1.9" fill="#1f8fff"/>
<circle cx="590.69" cy="707.89" r="1.9" fill="#1f8fff"/>
<circle cx="584.42" cy="703.74" r="1.9" fill="#1f8fff"/>
<circle cx="588.60" cy="703.74" r="1.9" fill="#1f8fff"/>
<circle cx="592.78" cy="703.74" r="1.9" fill="#1f8fff"/>
<circle cx="586.51" cy="699.59" r="1.9" fill="#1f8fff"/>
<circle cx="590.69" cy="699.59" r="1.9" fill="#1f8fff"/>
<circle cx="586.51" cy="695.43" r="1.9" fill="#1f8fff"/>
<circle cx="590.69" cy="695.43" r="1.9" fill="#1f8fff"/>
<circle cx="588.60" cy="692.32" r="1.9" fill="#1f8fff"/>
<circle cx="588.60" cy="687.13" r="1.9" fill="#1f8fff"/>
<circle cx="588.60" cy="681.94" r="1.9" fill="#1f8fff"/>
<circle cx="588.60" cy="668.45" r="1.9" fill="#1f8fff"/>
<line x1="614.50" y1="676.75" x2="614.50" y2="691.28" stroke="#1c1c1c" stroke-width="1.5" />
<line x1="614.50" y1="707.89" x2="614.50" y2="719.31" stroke="#1c1c1c" stroke-width="1.5" />
<line x1="610.00" y1="676.75" x2="619.00" y2="676.75" stroke="#1c1c1c" stroke-width="1.5" />
<line x1="610.00" y1="719.31" x2="619.00" y2="719.31" stroke="#1c1c1c" stroke-width="1.5" />
<rect x="606.25" y="691.28" width="16.50" height="16.61" fill="none" stroke="#1c1c1c" stroke-width="1.5"/>
<line x1="606.25" y1="704.78" x2="622.75" y2="704.78" stroke="#1c1c1c" stroke-width="1.5" />
<circle cx="614.50" cy="719.31" r="1.9" fill="#1f8fff"/>
<circle cx="614.50" cy="707.89" r="1.9" fill="#1f8fff"/>
<circle cx="614.50" cy="706.85" r="1.9" fill="#1f8fff"/>
<circle cx="612.41" cy="704.78" r="1.9" fill="#1f8fff"/>
<circle cx="616.59" cy="704.78" r="1.9" fill="#1f8fff"/>
<circle cx="614.50" cy="702.70" r="1.9" fill="#1f8fff"/>
<circle cx="614.50" cy="697.51" r="1.9" fill="#1f8fff"/>
<circle cx="614.50" cy="692.32" r="1.9" fill="#1f8fff"/>
<circle cx="614.50" cy="687.13" r="1.9" fill="#1f8fff"/>
<circle cx="614.50" cy="681.94" r="1.9" fill="#1f8fff"/>
<circle cx="614.50" cy="676.75" r="1.9" fill="#1f8fff"/>
<line x1="640.30" y1="572.95" x2="640.30" y2="654.95" stroke="#1c1c1c" stroke-width="1.5" />
<line x1="640.30" y1="686.09" x2="640.30" y2="726.57" stroke="#1c1c1c" stroke-width="1.5" />
<line x1="635.80" y1="572.95" x2="644.80" y2="572.95" stroke="#1c1c1c" stroke-width="1.5" />
<line x1="635.80" y1="726.57" x2="644.80" y2="726.57" stroke="#1c1c1c" stroke-width="1.5" />
<rect x="632.05" y="654.95" width="16.50" height="31.14" fill="none" stroke="#1c1c1c" stroke-width="1.5"/>
<line x1="632.05" y1="668.45" x2="648.55" y2="668.45" stroke="#1c1c1c" stroke-width="1.5" />
<circle cx="638.21" cy="726.57" r="1.9" fill="#1f8fff"/>
<circle cx="642.39" cy="726.57" r="1.9" fill="#1f8fff"/>
<circle cx="640.30" cy="718.27" r="1.9" fill="#1f8fff"/>
<circle cx="640.30" cy="707.89" r="1.9" fill="#1f8fff"/>
<circle cx="640.30" cy="697.51" r="1.9" fill="#1f8fff"/>
<circle cx="638.21" cy="692.32" r="1.9" fill="#1f8fff"/>
<circle cx="642.39" cy="692.32" r="1.9" fill="#1f8fff"/>
<circle cx="636.12" cy="686.09" r="1.9" fill="#1f8fff"/>
<circle cx="640.30" cy="686.09" r="1.9" fill="#1f8fff"/>
<circle cx="644.48" cy="686.09" r="1.9" fill="#1f8fff"/>
<circle cx="636.12" cy="681.94" r="1.9" fill="#1f8fff"/>
<circle cx="640.30" cy="681.94" r="1.9" fill="#1f8fff"/>
<circle cx="644.48" cy="681.94" r="1.9" fill="#1f8fff"/>
<circle cx="636.12" cy="676.75" r="1.9" fill="#1f8fff"/>
<circle cx="640.30" cy="676.75" r="1.9" fill="#1f8fff"/>
<circle cx="644.48" cy="676.75" r="1.9" fill="#1f8fff"/>
<circle cx="636.12" cy="671.56" r="1.9" fill="#1f8fff"/>
<circle cx="640.30" cy="671.56" r="1.9" fill="#1f8fff"/>
<circle cx="644.48" cy="671.56" r="1.9" fill="#1f8fff"/>
<circle cx="636.12" cy="668.45" r="1.9" fill="#1f8fff"/>
<circle cx="640.30" cy="668.45" r="1.9" fill="#1f8fff"/>
<circle cx="644.48" cy="668.45" r="1.9" fill="#1f8fff"/>
<circle cx="636.12" cy="664.29" r="1.9" fill="#1f8fff"/>
<circle cx="640.30" cy="664.29" r="1.9" fill="#1f8fff"/>
<circle cx="644.48" cy="664.29" r="1.9" fill="#1f8fff"/>
<circle cx="636.12" cy="659.10" r="1.9" fill="#1f8fff"/>
<circle cx="640.30" cy="659.10" r="1.9" fill="#1f8fff"/>
<circle cx="644.48" cy="659.10" r="1.9" fill="#1f8fff"/>
<circle cx="638.21" cy="652.88" r="1.9" fill="#1f8fff"/>
<circle cx="642.39" cy="652.88" r="1.9" fill="#1f8fff"/>
<circle cx="638.21" cy="645.61" r="1.9" fill="#1f8fff"/>
<circle cx="642.39" cy="645.61" r="1.9" fill="#1f8fff"/>
<circle cx="638.21" cy="640.42" r="1.9" fill="#1f8fff"/>
<circle cx="642.39" cy="640.42" r="1.9" fill="#1f8fff"/>
<circle cx="640.30" cy="635.23" r="1.9" fill="#1f8fff"/>
<circle cx="640.30" cy="610.32" r="1.9" fill="#1f8fff"/>
<circle cx="640.30" cy="572.95" r="1.9" fill="#1f8fff"/>
<line x1="666.00" y1="661.18" x2="666.00" y2="696.47" stroke="#1c1c1c" stroke-width="1.5" />
<line x1="666.00" y1="723.46" x2="666.00" y2="737.99" stroke="#1c1c1c" stroke-width="1.5" />
<line x1="661.50" y1="661.18" x2="670.50" y2="661.18" stroke="#1c1c1c" stroke-width="1.5" />
<line x1="661.50" y1="737.99" x2="670.50" y2="737.99" stroke="#1c1c1c" stroke-width="1.5" />
<rect x="657.75" y="696.47" width="16.50" height="26.99" fill="none" stroke="#1c1c1c" stroke-width="1.5"/>
<line x1="657.75" y1="709.97" x2="674.25" y2="709.97" stroke="#1c1c1c" stroke-width="1.5" />
<circle cx="661.82" cy="737.99" r="1.9" fill="#1f8fff"/>
<circle cx="666.00" cy="737.99" r="1.9" fill="#1f8fff"/>
<circle cx="670.18" cy="737.99" r="1.9" fill="#1f8fff"/>
<circle cx="663.91" cy="734.88" r="1.9" fill="#1f8fff"/>
<circle cx="668.09" cy="734.88" r="1.9" fill="#1f8fff"/>
<circle cx="663.91" cy="730.73" r="1.9" fill="#1f8fff"/>
<circle cx="668.09" cy="730.73" r="1.9" fill="#1f8fff"/>
<circle cx="666.00" cy="726.57" r="1.9" fill="#1f8fff"/>
<circle cx="666.00" cy="723.46" r="1.9" fill="#1f8fff"/>
<circle cx="666.00" cy="720.35" r="1.9" fill="#1f8fff"/>
<circle cx="666.00" cy="716.19" r="1.9" fill="#1f8fff"/>
<circle cx="663.91" cy="713.08" r="1.9" fill="#1f8fff"/>
<circle cx="668.09" cy="713.08" r="1.9" fill="#1f8fff"/>
<circle cx="657.64" cy="709.97" r="1.9" fill="#1f8fff"/>
<circle cx="661.82" cy="709.97" r="1.9" fill="#1f8fff"/>
<circle cx="666.00" cy="709.97" r="1.9" fill="#1f8fff"/>
<circle cx="670.18" cy="709.97" r="1.9" fill="#1f8fff"/>
<circle cx="674.36" cy="709.97" r="1.9" fill="#1f8fff"/>
<circle cx="666.00" cy="704.78" r="1.9" fill="#1f8fff"/>
<circle cx="666.00" cy="700.62" r="1.9" fill="#1f8fff"/>
<circle cx="661.82" cy="697.51" r="1.9" fill="#1f8fff"/>
<circle cx="666.00" cy="697.51" r="1.9" fill="#1f8fff"/>
<circle cx="670.18" cy="697.51" r="1.9" fill="#1f8fff"/>
<circle cx="663.91" cy="694.40" r="1.9" fill="#1f8fff"/>
<circle cx="668.09" cy="694.40" r="1.9" fill="#1f8fff"/>
<circle cx="666.00" cy="690.24" r="1.9" fill="#1f8fff"/>
<circle cx="666.00" cy="671.56" r="1.9" fill="#1f8fff"/>
<circle cx="663.91" cy="665.33" r="1.9" fill="#1f8fff"/>
<circle cx="668.09" cy="665.33" r="1.9" fill="#1f8fff"/>
<circle cx="666.00" cy="661.18" r="1.9" fill="#1f8fff"/>
<line x1="534.80" y1="548.00" x2="667.10" y2="548.00" stroke="#3a3a3a" stroke-width="1.3" />
<text x="601.00" y="546.40" font-size="8.8" text-anchor="middle" font-weight="normal" fill="#3a3a3a" >&lt;0.0001</text>
<line x1="534.80" y1="565.10" x2="636.70" y2="565.10" stroke="#3a3a3a" stroke-width="1.3" />
<text x="586.60" y="563.50" font-size="8.8" text-anchor="middle" font-weight="normal" fill="#3a3a3a" >&lt;0.0001</text>
<line x1="534.80" y1="623.40" x2="614.20" y2="623.40" stroke="#3a3a3a" stroke-width="1.3" />
<text x="574.80" y="621.80" font-size="8.8" text-anchor="middle" font-weight="normal" fill="#3a3a3a" >&lt;0.0001</text>
<line x1="534.80" y1="650.20" x2="585.60" y2="650.20" stroke="#3a3a3a" stroke-width="1.3" />
<text x="560.50" y="648.60" font-size="8.8" text-anchor="middle" font-weight="normal" fill="#3a3a3a" >&lt;0.0001</text>
<line x1="534.80" y1="677.80" x2="560.90" y2="677.80" stroke="#3a3a3a" stroke-width="1.3" />
<text x="548.00" y="676.20" font-size="8.8" text-anchor="middle" font-weight="normal" fill="#3a3a3a" >&gt;0.9</text>
<text x="541.30" y="778.00" font-size="10.3" text-anchor="end" font-weight="bold" fill="#1c1c1c" transform="rotate(-43 541.30 778.00)" >PCS<tspan font-size="6.20" dy="-3.80">ST</tspan></text>
<text x="567.40" y="778.00" font-size="10.3" text-anchor="end" font-weight="bold" fill="#1c1c1c" transform="rotate(-43 567.40 778.00)" >PD9</text>
<text x="592.60" y="778.00" font-size="10.3" text-anchor="end" font-weight="bold" fill="#1c1c1c" transform="rotate(-43 592.60 778.00)" >PD18-21</text>
<text x="618.50" y="778.00" font-size="10.3" text-anchor="end" font-weight="bold" fill="#1c1c1c" transform="rotate(-43 618.50 778.00)" >PD78</text>
<text x="644.30" y="778.00" font-size="10.3" text-anchor="end" font-weight="bold" fill="#1c1c1c" transform="rotate(-43 644.30 778.00)" >PD86-89</text>
<text x="670.00" y="778.00" font-size="10.3" text-anchor="end" font-weight="bold" fill="#1c1c1c" transform="rotate(-43 670.00 778.00)" >PCS<tspan font-size="6.20" dy="-3.80">LT</tspan></text>
<line x1="548.40" y1="813.80" x2="642.80" y2="813.80" stroke="#1c1c1c" stroke-width="1.5" />
<text x="590.20" y="832.00" font-size="10.8" text-anchor="middle" font-weight="bold" fill="#1c1c1c" >PCS<tspan font-size="6.70" dy="-4.32">ST</tspan><tspan dy="4.32">-hTERT</tspan></text>
<text x="479.40" y="655.00" font-size="14" text-anchor="middle" font-weight="bold" fill="#1c1c1c" transform="rotate(-90 479.40 655.00)" >Fragility</text>
<text x="0" y="0" font-size="13.6" font-weight="bold" text-anchor="middle" fill="#1c1c1c" transform="translate(496.2 655) rotate(-90) scale(1 0.92)">(% telomeres per metaphase)</text>
</svg></body></html>
